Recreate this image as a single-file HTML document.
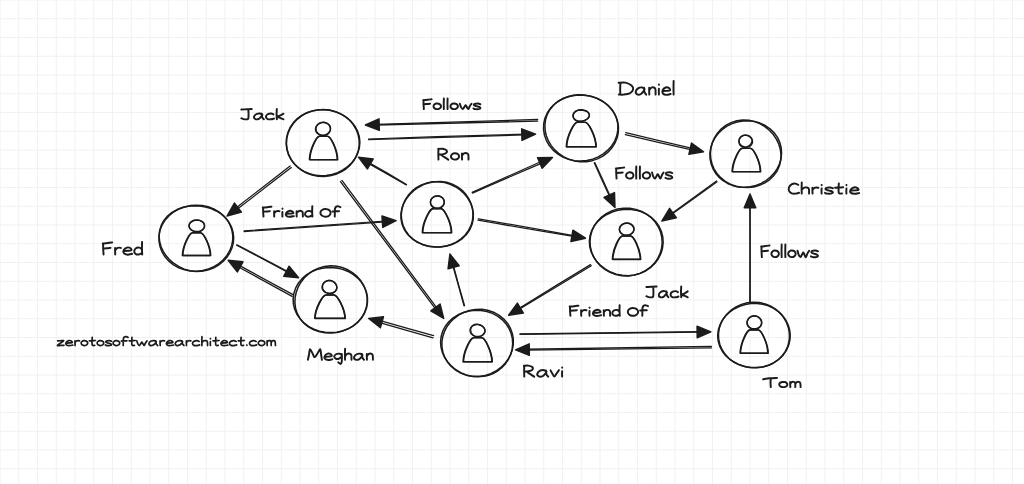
<!DOCTYPE html><html><head><meta charset="utf-8"><style>html,body{margin:0;padding:0;background:#fff;overflow:hidden}svg{display:block}</style></head><body>
<svg width="1024" height="484" viewBox="0 0 1024 484">
<rect width="1024" height="484" fill="#fff"/>
<path d="M0.00 0V484M18.75 0V484M37.50 0V484M56.25 0V484M75.00 0V484M93.75 0V484M112.50 0V484M131.25 0V484M150.00 0V484M168.75 0V484M187.50 0V484M206.25 0V484M225.00 0V484M243.75 0V484M262.50 0V484M281.25 0V484M300.00 0V484M318.75 0V484M337.50 0V484M356.25 0V484M375.00 0V484M393.75 0V484M412.50 0V484M431.25 0V484M450.00 0V484M468.75 0V484M487.50 0V484M506.25 0V484M525.00 0V484M543.75 0V484M562.50 0V484M581.25 0V484M600.00 0V484M618.75 0V484M637.50 0V484M656.25 0V484M675.00 0V484M693.75 0V484M712.50 0V484M731.25 0V484M750.00 0V484M768.75 0V484M787.50 0V484M806.25 0V484M825.00 0V484M843.75 0V484M862.50 0V484M881.25 0V484M900.00 0V484M918.75 0V484M937.50 0V484M956.25 0V484M975.00 0V484M993.75 0V484M1012.50 0V484M0 0.00H1024M0 18.75H1024M0 37.50H1024M0 56.25H1024M0 75.00H1024M0 93.75H1024M0 112.50H1024M0 131.25H1024M0 150.00H1024M0 168.75H1024M0 187.50H1024M0 206.25H1024M0 225.00H1024M0 243.75H1024M0 262.50H1024M0 281.25H1024M0 300.00H1024M0 318.75H1024M0 337.50H1024M0 356.25H1024M0 375.00H1024M0 393.75H1024M0 412.50H1024M0 431.25H1024M0 450.00H1024M0 468.75H1024" stroke="#f1f1f1" stroke-width="1" fill="none"/>
<path d="M321.22 175.77 L315.20 175.23 L309.34 173.76 L303.84 171.39 L298.86 168.17 L294.56 164.20 L291.07 159.61 L288.47 154.57 L286.83 149.20 L286.17 143.67 L286.49 138.12 L287.81 132.69 L290.09 127.54 L293.29 122.81 L297.32 118.64 L302.06 115.18 L307.37 112.52 L313.08 110.72 L319.02 109.80 L325.02 109.76 L330.95 110.57 L336.68 112.20 L342.07 114.62 L347.00 117.78 L351.32 121.64 L354.90 126.13 L357.59 131.15 L359.27 136.54 L359.87 142.13 L359.36 147.72 L357.78 153.11 L355.22 158.14 L351.80 162.69 L347.65 166.66 L342.90 169.98 L337.65 172.60 L332.03 174.48 L326.13 175.54 L320.11 175.74 L314.11 175.03 L308.30 173.40" fill="none" stroke="#1b1b1b" stroke-width="1.50" stroke-linecap="round" stroke-linejoin="round"/>
<path d="M291.21 159.60 L288.70 154.66 L287.11 149.43 L286.46 144.05 L286.76 138.66 L287.99 133.39 L290.13 128.38 L293.12 123.74 L296.88 119.60 L301.31 116.06 L306.32 113.21 L311.76 111.14 L317.51 109.90 L323.40 109.53 L329.28 110.04 L334.99 111.43 L340.38 113.64 L345.29 116.63 L349.62 120.29 L353.24 124.55 L356.06 129.27 L358.03 134.35 L359.09 139.66 L359.21 145.06 L358.37 150.42 L356.60 155.61 L353.94 160.48 L350.43 164.90 L346.16 168.75 L341.25 171.92 L335.84 174.30 L330.05 175.84 L324.07 176.48 L318.05 176.20 L312.17 175.02 L306.59 172.97 L301.46 170.11 L296.92 166.52 L293.10 162.32 L290.08 157.62 L287.94 152.54" fill="none" stroke="#1b1b1b" stroke-width="1.50" stroke-linecap="round" stroke-linejoin="round"/>
<path d="M329.24 132.08 L328.53 132.86 L327.69 133.56 L326.73 134.15 L325.68 134.63 L324.53 134.99 L323.33 135.19 L322.08 135.23 L320.84 135.08 L319.64 134.75 L318.53 134.24 L317.54 133.55 L316.72 132.72 L316.09 131.79 L315.68 130.77 L315.48 129.73 L315.50 128.68 L315.71 127.66 L316.11 126.70 L316.68 125.81 L317.39 125.00 L318.24 124.28 L319.20 123.67 L320.26 123.18 L321.41 122.82 L322.61 122.61 L323.85 122.57 L325.09 122.70 L326.29 123.02 L327.40 123.51 L328.39 124.17 L329.21 124.97 L329.85 125.88 L330.29 126.86 L330.52 127.88 L330.54 128.90 L330.36 129.90 L330.01 130.84 L329.50 131.73 L328.84 132.54 L328.06 133.28" fill="none" stroke="#1b1b1b" stroke-width="1.40" stroke-linecap="round" stroke-linejoin="round"/>
<path d="M329.07 132.82 L328.29 133.69 L327.32 134.43 L326.20 135.01 L324.95 135.40 L323.64 135.56 L322.32 135.49 L321.05 135.21 L319.88 134.73 L318.83 134.10 L317.94 133.35 L317.21 132.50 L316.65 131.60 L316.26 130.65 L316.03 129.69 L315.96 128.70 L316.05 127.72 L316.32 126.74 L316.76 125.78 L317.38 124.87 L318.19 124.04 L319.16 123.32 L320.29 122.75 L321.53 122.37 L322.84 122.21 L324.17 122.28 L325.44 122.58 L326.62 123.07 L327.66 123.74 L328.53 124.54 L329.22 125.43 L329.73 126.36 L330.08 127.33 L330.27 128.32 L330.31 129.32 L330.19 130.32 L329.90 131.32 L329.42 132.29 L328.75 133.21 L327.89 134.03 L326.85 134.71" fill="none" stroke="#1b1b1b" stroke-width="1.40" stroke-linecap="round" stroke-linejoin="round"/>
<path d="M309.60 159.70 C309.90 149.17 316.55 136.30 319.55 136.30 L327.55 136.30 C330.55 136.30 337.20 149.17 337.50 159.70 Z" transform="translate(-0.21 -0.09)" fill="none" stroke="#1b1b1b" stroke-width="1.45" stroke-linejoin="round"/>
<path d="M309.60 159.70 C309.90 149.17 316.55 136.30 319.55 136.30 L327.55 136.30 C330.55 136.30 337.20 149.17 337.50 159.70 Z" transform="translate(0.21 0.09)" fill="none" stroke="#1b1b1b" stroke-width="1.45" stroke-linejoin="round"/>
<path d="M572.04 95.51 L577.92 94.83 L583.82 94.99 L589.60 95.95 L595.15 97.65 L600.36 100.07 L605.14 103.17 L609.36 106.90 L612.92 111.22 L615.68 116.04 L617.54 121.25 L618.44 126.71 L618.31 132.25 L617.16 137.73 L615.02 142.97 L611.94 147.83 L608.01 152.14 L603.33 155.79 L598.05 158.66 L592.32 160.64 L586.31 161.69 L580.24 161.77 L574.27 160.90 L568.59 159.15 L563.33 156.62 L558.61 153.40 L554.50 149.61 L551.05 145.36 L548.31 140.71 L546.33 135.75 L545.16 130.55 L544.87 125.21 L545.54 119.84 L547.19 114.61 L549.84 109.69 L553.41 105.27 L557.80 101.51 L562.84 98.53 L568.35 96.40 L574.15 95.17 L580.05 94.79" fill="none" stroke="#1b1b1b" stroke-width="1.50" stroke-linecap="round" stroke-linejoin="round"/>
<path d="M557.09 102.09 L562.29 99.04 L567.93 96.85 L573.85 95.52 L579.89 95.03 L585.92 95.38 L591.83 96.53 L597.48 98.48 L602.75 101.23 L607.48 104.75 L611.50 108.97 L614.65 113.80 L616.81 119.08 L617.89 124.64 L617.86 130.27 L616.75 135.80 L614.64 141.04 L611.62 145.88 L607.80 150.19 L603.29 153.90 L598.19 156.92 L592.62 159.17 L586.71 160.59 L580.61 161.11 L574.48 160.70 L568.49 159.35 L562.83 157.09 L557.64 153.98 L553.09 150.11 L549.30 145.59 L546.39 140.54 L544.44 135.10 L543.53 129.42 L543.72 123.66 L545.01 118.03 L547.38 112.70 L550.75 107.87 L554.99 103.69 L559.93 100.28 L565.40 97.71 L571.22 96.00" fill="none" stroke="#1b1b1b" stroke-width="1.50" stroke-linecap="round" stroke-linejoin="round"/>
<path d="M579.93 109.79 L581.22 109.74 L582.50 109.83 L583.76 110.06 L584.96 110.41 L586.09 110.87 L587.12 111.47 L588.02 112.20 L588.73 113.05 L589.21 114.01 L589.42 115.03 L589.34 116.06 L588.97 117.04 L588.37 117.93 L587.57 118.69 L586.63 119.32 L585.60 119.85 L584.51 120.30 L583.35 120.67 L582.12 120.96 L580.83 121.15 L579.50 121.19 L578.17 121.04 L576.89 120.68 L575.74 120.11 L574.78 119.35 L574.04 118.46 L573.56 117.49 L573.31 116.48 L573.29 115.49 L573.46 114.52 L573.82 113.60 L574.36 112.73 L575.06 111.92 L575.93 111.21 L576.95 110.62 L578.09 110.17 L579.33 109.87 L580.61 109.75 L581.90 109.77 L583.17 109.94" fill="none" stroke="#1b1b1b" stroke-width="1.40" stroke-linecap="round" stroke-linejoin="round"/>
<path d="M576.87 110.70 L578.02 110.38 L579.21 110.20 L580.41 110.15 L581.60 110.20 L582.76 110.33 L583.90 110.54 L585.01 110.82 L586.08 111.22 L587.08 111.74 L587.95 112.40 L588.64 113.20 L589.09 114.11 L589.28 115.08 L589.20 116.05 L588.85 116.98 L588.30 117.83 L587.57 118.58 L586.72 119.23 L585.78 119.80 L584.75 120.30 L583.64 120.73 L582.46 121.09 L581.19 121.32 L579.87 121.41 L578.54 121.31 L577.25 121.01 L576.06 120.51 L575.02 119.83 L574.17 119.00 L573.54 118.07 L573.12 117.08 L572.93 116.07 L572.96 115.06 L573.21 114.07 L573.67 113.15 L574.32 112.31 L575.16 111.58 L576.15 111.00 L577.25 110.58 L578.42 110.30" fill="none" stroke="#1b1b1b" stroke-width="1.40" stroke-linecap="round" stroke-linejoin="round"/>
<path d="M566.50 146.80 C566.80 135.77 574.30 122.30 577.30 122.30 L585.30 122.30 C588.30 122.30 595.80 135.77 596.10 146.80 Z" transform="translate(-0.21 -0.09)" fill="none" stroke="#1b1b1b" stroke-width="1.45" stroke-linejoin="round"/>
<path d="M566.50 146.80 C566.80 135.77 574.30 122.30 577.30 122.30 L585.30 122.30 C588.30 122.30 595.80 135.77 596.10 146.80 Z" transform="translate(0.21 0.09)" fill="none" stroke="#1b1b1b" stroke-width="1.45" stroke-linejoin="round"/>
<path d="M719.70 177.88 L715.96 173.64 L713.07 168.87 L711.08 163.75 L710.04 158.42 L709.94 153.05 L710.76 147.76 L712.44 142.67 L714.93 137.90 L718.18 133.55 L722.10 129.70 L726.62 126.44 L731.64 123.85 L737.05 122.01 L742.74 120.96 L748.56 120.78 L754.37 121.47 L760.00 123.06 L765.28 125.52 L770.05 128.80 L774.14 132.80 L777.42 137.40 L779.78 142.44 L781.17 147.77 L781.57 153.21 L781.00 158.59 L779.52 163.77 L777.20 168.65 L774.12 173.12 L770.37 177.10 L766.03 180.53 L761.19 183.35 L755.92 185.47 L750.33 186.82 L744.54 187.34 L738.71 186.96 L733.00 185.66 L727.61 183.46 L722.70 180.41 L718.44 176.61 L714.95 172.18" fill="none" stroke="#1b1b1b" stroke-width="1.50" stroke-linecap="round" stroke-linejoin="round"/>
<path d="M712.22 164.62 L710.87 159.36 L710.41 153.97 L710.82 148.58 L712.10 143.28 L714.25 138.17 L717.25 133.38 L721.09 129.08 L725.72 125.42 L731.01 122.59 L736.80 120.74 L742.85 119.96 L748.93 120.27 L754.80 121.61 L760.28 123.86 L765.23 126.87 L769.59 130.49 L773.31 134.62 L776.37 139.15 L778.72 144.03 L780.30 149.21 L781.01 154.60 L780.78 160.09 L779.52 165.52 L777.23 170.70 L773.94 175.43 L769.78 179.53 L764.89 182.87 L759.46 185.35 L753.67 186.92 L747.69 187.58 L741.70 187.32 L735.86 186.16 L730.32 184.13 L725.23 181.29 L720.73 177.71 L716.96 173.50 L714.01 168.80 L711.92 163.73 L710.72 158.43 L710.41 153.04" fill="none" stroke="#1b1b1b" stroke-width="1.50" stroke-linecap="round" stroke-linejoin="round"/>
<path d="M741.39 136.55 L742.23 135.96 L743.19 135.50 L744.22 135.19 L745.30 135.05 L746.40 135.09 L747.48 135.29 L748.51 135.66 L749.46 136.18 L750.31 136.84 L751.01 137.63 L751.54 138.51 L751.89 139.47 L752.04 140.46 L751.98 141.44 L751.74 142.38 L751.34 143.26 L750.81 144.06 L750.18 144.77 L749.47 145.41 L748.68 145.98 L747.81 146.48 L746.87 146.89 L745.84 147.17 L744.76 147.30 L743.65 147.25 L742.57 146.98 L741.57 146.51 L740.70 145.85 L740.00 145.04 L739.49 144.14 L739.16 143.19 L739.01 142.22 L739.01 141.27 L739.14 140.34 L739.39 139.44 L739.77 138.58 L740.27 137.75 L740.90 137.00 L741.67 136.33 L742.56 135.78" fill="none" stroke="#1b1b1b" stroke-width="1.40" stroke-linecap="round" stroke-linejoin="round"/>
<path d="M739.76 138.07 L740.38 137.26 L741.16 136.57 L742.06 136.03 L743.05 135.64 L744.09 135.41 L745.15 135.34 L746.20 135.41 L747.23 135.62 L748.22 135.96 L749.15 136.40 L750.02 136.97 L750.81 137.65 L751.48 138.45 L752.01 139.35 L752.37 140.35 L752.53 141.40 L752.46 142.48 L752.16 143.53 L751.64 144.50 L750.92 145.35 L750.04 146.04 L749.04 146.56 L747.98 146.90 L746.89 147.06 L745.81 147.07 L744.76 146.92 L743.76 146.65 L742.83 146.27 L741.97 145.79 L741.19 145.22 L740.51 144.55 L739.93 143.81 L739.47 142.99 L739.15 142.10 L739.00 141.16 L739.01 140.20 L739.22 139.25 L739.61 138.33 L740.18 137.50 L740.91 136.77" fill="none" stroke="#1b1b1b" stroke-width="1.40" stroke-linecap="round" stroke-linejoin="round"/>
<path d="M732.30 171.70 C732.60 161.17 739.40 148.30 742.40 148.30 L750.40 148.30 C753.40 148.30 760.20 161.17 760.50 171.70 Z" transform="translate(-0.21 -0.09)" fill="none" stroke="#1b1b1b" stroke-width="1.45" stroke-linejoin="round"/>
<path d="M732.30 171.70 C732.60 161.17 739.40 148.30 742.40 148.30 L750.40 148.30 C753.40 148.30 760.20 161.17 760.50 171.70 Z" transform="translate(0.21 0.09)" fill="none" stroke="#1b1b1b" stroke-width="1.45" stroke-linejoin="round"/>
<path d="M229.58 223.92 L231.66 229.14 L232.71 234.58 L232.73 240.10 L231.72 245.51 L229.76 250.69 L226.90 255.49 L223.25 259.82 L218.89 263.58 L213.92 266.68 L208.47 269.04 L202.64 270.59 L196.59 271.27 L190.48 271.04 L184.48 269.88 L178.76 267.80 L173.50 264.87 L168.87 261.15 L165.00 256.77 L162.01 251.86 L159.99 246.56 L158.99 241.03 L159.04 235.44 L160.13 229.96 L162.21 224.74 L165.22 219.92 L169.06 215.64 L173.60 212.00 L178.73 209.08 L184.29 206.93 L190.16 205.61 L196.19 205.14 L202.23 205.54 L208.13 206.81 L213.74 208.94 L218.89 211.90 L223.43 215.61 L227.19 219.99 L230.06 224.89 L231.94 230.16 L232.80 235.63" fill="none" stroke="#1b1b1b" stroke-width="1.50" stroke-linecap="round" stroke-linejoin="round"/>
<path d="M233.64 236.54 L233.40 242.05 L232.16 247.43 L229.97 252.56 L226.91 257.29 L223.06 261.53 L218.51 265.14 L213.37 268.03 L207.77 270.08 L201.88 271.23 L195.89 271.43 L189.98 270.70 L184.32 269.10 L179.05 266.74 L174.27 263.71 L170.03 260.13 L166.38 256.08 L163.38 251.60 L161.09 246.74 L159.62 241.57 L159.09 236.18 L159.60 230.74 L161.20 225.43 L163.87 220.48 L167.52 216.08 L171.99 212.41 L177.08 209.54 L182.57 207.52 L188.28 206.30 L194.08 205.84 L199.87 206.09 L205.56 207.01 L211.07 208.62 L216.31 210.94 L221.13 213.99 L225.38 217.74 L228.88 222.14 L231.49 227.06 L233.10 232.35 L233.67 237.83 L233.20 243.32" fill="none" stroke="#1b1b1b" stroke-width="1.50" stroke-linecap="round" stroke-linejoin="round"/>
<path d="M192.78 221.12 L193.83 220.70 L194.95 220.39 L196.12 220.19 L197.32 220.12 L198.54 220.19 L199.73 220.41 L200.87 220.79 L201.92 221.33 L202.83 222.02 L203.56 222.83 L204.11 223.74 L204.44 224.71 L204.57 225.72 L204.48 226.72 L204.18 227.70 L203.68 228.63 L203.00 229.49 L202.14 230.23 L201.14 230.86 L200.01 231.33 L198.81 231.63 L197.55 231.77 L196.30 231.74 L195.07 231.55 L193.91 231.22 L192.82 230.76 L191.84 230.19 L190.98 229.52 L190.27 228.75 L189.72 227.91 L189.35 227.00 L189.20 226.06 L189.25 225.11 L189.53 224.19 L190.01 223.33 L190.66 222.56 L191.47 221.88 L192.40 221.31 L193.42 220.85 L194.51 220.50" fill="none" stroke="#1b1b1b" stroke-width="1.40" stroke-linecap="round" stroke-linejoin="round"/>
<path d="M191.92 221.18 L192.97 220.67 L194.11 220.31 L195.30 220.09 L196.52 220.03 L197.73 220.10 L198.92 220.31 L200.05 220.65 L201.11 221.11 L202.07 221.69 L202.90 222.39 L203.58 223.20 L204.08 224.09 L204.38 225.04 L204.46 226.02 L204.31 227.00 L203.94 227.94 L203.36 228.82 L202.61 229.59 L201.70 230.24 L200.68 230.77 L199.57 231.17 L198.40 231.42 L197.19 231.55 L195.98 231.53 L194.78 231.38 L193.62 231.09 L192.53 230.66 L191.54 230.10 L190.68 229.41 L189.97 228.62 L189.44 227.75 L189.11 226.81 L188.99 225.83 L189.08 224.85 L189.38 223.90 L189.88 223.01 L190.57 222.20 L191.43 221.49 L192.42 220.91 L193.52 220.48" fill="none" stroke="#1b1b1b" stroke-width="1.40" stroke-linecap="round" stroke-linejoin="round"/>
<path d="M182.60 255.50 C182.90 245.28 189.55 232.80 192.55 232.80 L200.55 232.80 C203.55 232.80 210.20 245.28 210.50 255.50 Z" transform="translate(-0.21 -0.09)" fill="none" stroke="#1b1b1b" stroke-width="1.45" stroke-linejoin="round"/>
<path d="M182.60 255.50 C182.90 245.28 189.55 232.80 192.55 232.80 L200.55 232.80 C203.55 232.80 210.20 245.28 210.50 255.50 Z" transform="translate(0.21 0.09)" fill="none" stroke="#1b1b1b" stroke-width="1.45" stroke-linejoin="round"/>
<path d="M417.73 242.28 L412.95 239.08 L408.86 235.18 L405.57 230.70 L403.18 225.77 L401.76 220.57 L401.28 215.25 L401.74 209.95 L403.08 204.80 L405.26 199.89 L408.24 195.32 L411.98 191.21 L416.42 187.69 L421.47 184.87 L426.98 182.89 L432.80 181.83 L438.73 181.72 L444.59 182.55 L450.19 184.25 L455.40 186.75 L460.12 189.94 L464.26 193.73 L467.75 198.04 L470.48 202.82 L472.38 207.96 L473.33 213.36 L473.25 218.87 L472.10 224.31 L469.88 229.47 L466.68 234.18 L462.63 238.27 L457.88 241.64 L452.61 244.22 L447.00 245.99 L441.17 246.95 L435.27 247.10 L429.42 246.44 L423.75 244.95 L418.41 242.65 L413.56 239.56 L409.36 235.74" fill="none" stroke="#1b1b1b" stroke-width="1.50" stroke-linecap="round" stroke-linejoin="round"/>
<path d="M407.16 233.76 L404.09 229.10 L402.01 224.00 L400.97 218.66 L400.99 213.28 L402.00 208.03 L403.90 203.05 L406.59 198.43 L409.96 194.22 L413.94 190.47 L418.47 187.25 L423.51 184.63 L428.98 182.72 L434.77 181.64 L440.72 181.48 L446.63 182.30 L452.31 184.11 L457.54 186.83 L462.16 190.36 L466.04 194.54 L469.10 199.23 L471.30 204.28 L472.61 209.56 L473.00 214.96 L472.45 220.35 L470.94 225.59 L468.50 230.53 L465.18 235.02 L461.07 238.91 L456.30 242.10 L451.04 244.50 L445.43 246.10 L439.64 246.88 L433.79 246.85 L428.01 246.04 L422.41 244.43 L417.14 242.04 L412.34 238.88 L408.20 234.99 L404.87 230.47 L402.49 225.48" fill="none" stroke="#1b1b1b" stroke-width="1.50" stroke-linecap="round" stroke-linejoin="round"/>
<path d="M431.35 199.21 L431.93 198.38 L432.64 197.63 L433.47 196.99 L434.41 196.46 L435.44 196.08 L436.53 195.86 L437.64 195.81 L438.76 195.93 L439.84 196.21 L440.85 196.65 L441.77 197.23 L442.58 197.94 L443.25 198.76 L443.75 199.67 L444.07 200.64 L444.20 201.65 L444.14 202.65 L443.89 203.63 L443.47 204.55 L442.90 205.39 L442.20 206.14 L441.39 206.80 L440.48 207.36 L439.49 207.80 L438.43 208.11 L437.31 208.28 L436.17 208.28 L435.03 208.09 L433.95 207.72 L432.96 207.17 L432.10 206.45 L431.41 205.61 L430.90 204.67 L430.59 203.68 L430.46 202.67 L430.50 201.67 L430.71 200.70 L431.06 199.77 L431.55 198.90 L432.17 198.09" fill="none" stroke="#1b1b1b" stroke-width="1.40" stroke-linecap="round" stroke-linejoin="round"/>
<path d="M430.58 200.90 L430.90 199.91 L431.40 199.00 L432.07 198.18 L432.88 197.48 L433.81 196.92 L434.81 196.49 L435.88 196.21 L436.98 196.07 L438.09 196.09 L439.19 196.26 L440.25 196.59 L441.24 197.07 L442.13 197.70 L442.90 198.47 L443.51 199.34 L443.95 200.30 L444.22 201.31 L444.29 202.37 L444.17 203.42 L443.86 204.46 L443.36 205.44 L442.67 206.33 L441.81 207.10 L440.81 207.71 L439.70 208.15 L438.52 208.39 L437.32 208.43 L436.14 208.29 L435.01 207.96 L433.97 207.48 L433.03 206.87 L432.21 206.13 L431.53 205.30 L431.00 204.39 L430.64 203.41 L430.47 202.39 L430.50 201.37 L430.73 200.36 L431.15 199.41 L431.75 198.55" fill="none" stroke="#1b1b1b" stroke-width="1.40" stroke-linecap="round" stroke-linejoin="round"/>
<path d="M422.50 232.70 C422.80 221.86 430.00 208.60 433.00 208.60 L441.00 208.60 C444.00 208.60 451.20 221.86 451.50 232.70 Z" transform="translate(-0.21 -0.09)" fill="none" stroke="#1b1b1b" stroke-width="1.45" stroke-linejoin="round"/>
<path d="M422.50 232.70 C422.80 221.86 430.00 208.60 433.00 208.60 L441.00 208.60 C444.00 208.60 451.20 221.86 451.50 232.70 Z" transform="translate(0.21 0.09)" fill="none" stroke="#1b1b1b" stroke-width="1.45" stroke-linejoin="round"/>
<path d="M593.93 257.34 L591.70 252.27 L590.37 246.99 L589.97 241.59 L590.49 236.21 L591.93 230.94 L594.28 225.92 L597.50 221.27 L601.53 217.12 L606.30 213.62 L611.69 210.89 L617.53 209.04 L623.66 208.15 L629.86 208.26 L635.94 209.37 L641.69 211.43 L646.94 214.35 L651.54 218.01 L655.39 222.27 L658.41 227.01 L660.56 232.08 L661.81 237.36 L662.16 242.74 L661.60 248.12 L660.13 253.39 L657.75 258.41 L654.49 263.06 L650.40 267.20 L645.57 270.67 L640.12 273.36 L634.22 275.13 L628.05 275.93 L621.82 275.71 L615.75 274.50 L610.02 272.34 L604.81 269.35 L600.26 265.63 L596.46 261.31 L593.50 256.53 L591.42 251.43 L590.24 246.12" fill="none" stroke="#1b1b1b" stroke-width="1.50" stroke-linecap="round" stroke-linejoin="round"/>
<path d="M594.25 225.81 L597.76 221.40 L602.01 217.59 L606.86 214.45 L612.18 212.03 L617.83 210.36 L623.71 209.46 L629.70 209.37 L635.66 210.14 L641.43 211.79 L646.84 214.32 L651.69 217.68 L655.83 221.78 L659.11 226.48 L661.44 231.62 L662.79 237.04 L663.15 242.57 L662.52 248.08 L660.95 253.44 L658.45 258.52 L655.08 263.19 L650.88 267.30 L645.97 270.71 L640.47 273.29 L634.55 274.95 L628.42 275.63 L622.27 275.34 L616.30 274.12 L610.64 272.04 L605.45 269.21 L600.81 265.71 L596.83 261.61 L593.60 257.01 L591.22 251.99 L589.79 246.68 L589.37 241.21 L590.02 235.75 L591.71 230.49 L594.39 225.59 L597.94 221.21 L602.22 217.43" fill="none" stroke="#1b1b1b" stroke-width="1.50" stroke-linecap="round" stroke-linejoin="round"/>
<path d="M633.33 231.56 L632.73 232.44 L631.96 233.24 L631.04 233.93 L629.99 234.49 L628.85 234.91 L627.62 235.18 L626.36 235.26 L625.09 235.15 L623.86 234.86 L622.72 234.38 L621.70 233.74 L620.85 232.95 L620.19 232.06 L619.73 231.09 L619.49 230.09 L619.46 229.09 L619.63 228.12 L619.99 227.20 L620.50 226.36 L621.15 225.60 L621.93 224.93 L622.81 224.35 L623.79 223.88 L624.84 223.53 L625.96 223.30 L627.11 223.21 L628.27 223.28 L629.42 223.50 L630.50 223.89 L631.50 224.44 L632.36 225.12 L633.07 225.93 L633.59 226.83 L633.92 227.80 L634.05 228.79 L633.98 229.80 L633.71 230.78 L633.25 231.71 L632.61 232.58 L631.81 233.36" fill="none" stroke="#1b1b1b" stroke-width="1.40" stroke-linecap="round" stroke-linejoin="round"/>
<path d="M629.19 234.87 L627.97 235.14 L626.70 235.24 L625.43 235.17 L624.20 234.92 L623.03 234.49 L621.98 233.90 L621.07 233.15 L620.35 232.29 L619.83 231.34 L619.52 230.35 L619.42 229.34 L619.52 228.35 L619.79 227.40 L620.22 226.50 L620.81 225.66 L621.54 224.90 L622.41 224.24 L623.40 223.70 L624.49 223.30 L625.65 223.08 L626.84 223.05 L628.02 223.20 L629.13 223.51 L630.16 223.97 L631.08 224.55 L631.89 225.22 L632.57 225.97 L633.13 226.78 L633.54 227.66 L633.80 228.59 L633.87 229.57 L633.74 230.57 L633.39 231.54 L632.83 232.47 L632.07 233.30 L631.14 234.00 L630.07 234.56 L628.90 234.96 L627.66 235.19 L626.39 235.24" fill="none" stroke="#1b1b1b" stroke-width="1.40" stroke-linecap="round" stroke-linejoin="round"/>
<path d="M612.60 259.40 C612.90 248.87 619.55 236.00 622.55 236.00 L630.55 236.00 C633.55 236.00 640.20 248.87 640.50 259.40 Z" transform="translate(-0.21 -0.09)" fill="none" stroke="#1b1b1b" stroke-width="1.45" stroke-linejoin="round"/>
<path d="M612.60 259.40 C612.90 248.87 619.55 236.00 622.55 236.00 L630.55 236.00 C633.55 236.00 640.20 248.87 640.50 259.40 Z" transform="translate(0.21 0.09)" fill="none" stroke="#1b1b1b" stroke-width="1.45" stroke-linejoin="round"/>
<path d="M322.96 266.81 L329.10 265.91 L335.33 266.07 L341.44 267.29 L347.19 269.50 L352.43 272.58 L357.01 276.39 L360.85 280.81 L363.85 285.71 L365.96 290.98 L367.11 296.48 L367.24 302.07 L366.33 307.60 L364.39 312.90 L361.48 317.79 L357.70 322.14 L353.20 325.83 L348.13 328.81 L342.62 331.02 L336.80 332.44 L330.81 333.04 L324.77 332.78 L318.84 331.62 L313.20 329.55 L308.04 326.59 L303.56 322.82 L299.93 318.37 L297.25 313.43 L295.58 308.18 L294.90 302.81 L295.14 297.46 L296.23 292.24 L298.12 287.22 L300.76 282.47 L304.15 278.05 L308.28 274.09 L313.11 270.74 L318.55 268.15 L324.47 266.49 L330.65 265.85 L336.87 266.28" fill="none" stroke="#1b1b1b" stroke-width="1.50" stroke-linecap="round" stroke-linejoin="round"/>
<path d="M331.18 267.49 L337.00 268.03 L342.67 269.36 L348.07 271.45 L353.06 274.30 L357.53 277.85 L361.32 282.04 L364.30 286.78 L366.37 291.94 L367.44 297.37 L367.45 302.89 L366.41 308.34 L364.36 313.52 L361.36 318.29 L357.55 322.49 L353.04 326.04 L348.00 328.86 L342.55 330.91 L336.85 332.16 L331.02 332.62 L325.18 332.28 L319.47 331.15 L313.99 329.25 L308.88 326.60 L304.26 323.22 L300.29 319.19 L297.08 314.58 L294.77 309.52 L293.43 304.14 L293.15 298.62 L293.92 293.14 L295.72 287.87 L298.48 282.99 L302.10 278.63 L306.44 274.90 L311.37 271.89 L316.72 269.64 L322.37 268.18 L328.18 267.52 L334.03 267.65 L339.79 268.58" fill="none" stroke="#1b1b1b" stroke-width="1.50" stroke-linecap="round" stroke-linejoin="round"/>
<path d="M334.80 282.72 L335.50 283.56 L336.05 284.46 L336.43 285.40 L336.67 286.37 L336.75 287.35 L336.67 288.35 L336.41 289.35 L335.98 290.32 L335.35 291.23 L334.54 292.06 L333.55 292.74 L332.42 293.25 L331.19 293.56 L329.91 293.66 L328.65 293.54 L327.44 293.22 L326.32 292.73 L325.33 292.10 L324.47 291.36 L323.76 290.53 L323.20 289.64 L322.79 288.69 L322.55 287.70 L322.48 286.68 L322.59 285.65 L322.89 284.64 L323.39 283.66 L324.08 282.76 L324.96 281.97 L325.99 281.32 L327.16 280.84 L328.40 280.57 L329.68 280.51 L330.95 280.66 L332.16 281.01 L333.26 281.53 L334.22 282.20 L335.03 282.98 L335.69 283.84 L336.18 284.75" fill="none" stroke="#1b1b1b" stroke-width="1.40" stroke-linecap="round" stroke-linejoin="round"/>
<path d="M333.21 281.65 L334.13 282.33 L334.92 283.09 L335.58 283.91 L336.11 284.77 L336.52 285.68 L336.78 286.65 L336.87 287.65 L336.74 288.66 L336.39 289.65 L335.82 290.56 L335.04 291.35 L334.11 291.99 L333.06 292.48 L331.95 292.82 L330.80 293.02 L329.63 293.10 L328.45 293.06 L327.28 292.89 L326.13 292.57 L325.05 292.08 L324.07 291.42 L323.26 290.61 L322.64 289.66 L322.25 288.63 L322.08 287.55 L322.13 286.48 L322.38 285.42 L322.80 284.41 L323.39 283.46 L324.14 282.59 L325.05 281.81 L326.10 281.18 L327.28 280.72 L328.54 280.48 L329.83 280.48 L331.08 280.70 L332.24 281.12 L333.29 281.69 L334.20 282.38 L334.97 283.15" fill="none" stroke="#1b1b1b" stroke-width="1.40" stroke-linecap="round" stroke-linejoin="round"/>
<path d="M314.90 318.40 C315.20 307.87 323.00 295.00 326.00 295.00 L334.00 295.00 C337.00 295.00 344.80 307.87 345.10 318.40 Z" transform="translate(-0.21 -0.09)" fill="none" stroke="#1b1b1b" stroke-width="1.45" stroke-linejoin="round"/>
<path d="M314.90 318.40 C315.20 307.87 323.00 295.00 326.00 295.00 L334.00 295.00 C337.00 295.00 344.80 307.87 345.10 318.40 Z" transform="translate(0.21 0.09)" fill="none" stroke="#1b1b1b" stroke-width="1.45" stroke-linejoin="round"/>
<path d="M478.17 376.45 L472.19 376.29 L466.31 375.17 L460.75 373.12 L455.67 370.20 L451.25 366.53 L447.60 362.24 L444.81 357.48 L442.93 352.41 L441.97 347.18 L441.90 341.91 L442.72 336.71 L444.37 331.69 L446.82 326.92 L450.04 322.51 L453.98 318.56 L458.59 315.15 L463.77 312.42 L469.43 310.48 L475.43 309.43 L481.57 309.34 L487.67 310.26 L493.51 312.19 L498.87 315.07 L503.56 318.79 L507.43 323.21 L510.38 328.15 L512.33 333.43 L513.29 338.87 L513.27 344.32 L512.33 349.65 L510.53 354.74 L507.93 359.50 L504.58 363.86 L500.56 367.73 L495.92 371.01 L490.75 373.61 L485.17 375.42 L479.30 376.37 L473.31 376.39 L467.40 375.46" fill="none" stroke="#1b1b1b" stroke-width="1.50" stroke-linecap="round" stroke-linejoin="round"/>
<path d="M495.13 372.50 L489.72 374.90 L483.92 376.37 L477.93 376.85 L471.95 376.36 L466.19 374.95 L460.78 372.71 L455.85 369.75 L451.48 366.18 L447.73 362.08 L444.68 357.52 L442.42 352.58 L441.02 347.34 L440.57 341.92 L441.13 336.48 L442.73 331.19 L445.33 326.23 L448.83 321.76 L453.12 317.92 L458.05 314.80 L463.45 312.46 L469.18 310.95 L475.08 310.27 L481.02 310.46 L486.85 311.50 L492.40 313.40 L497.53 316.11 L502.07 319.56 L505.90 323.65 L508.92 328.25 L511.07 333.21 L512.32 338.39 L512.68 343.67 L512.18 348.94 L510.82 354.09 L508.61 359.03 L505.57 363.64 L501.73 367.78 L497.16 371.30 L491.96 374.04 L486.29 375.89" fill="none" stroke="#1b1b1b" stroke-width="1.50" stroke-linecap="round" stroke-linejoin="round"/>
<path d="M484.64 332.57 L484.17 333.49 L483.53 334.33 L482.71 335.06 L481.76 335.65 L480.71 336.10 L479.59 336.40 L478.43 336.54 L477.27 336.54 L476.11 336.40 L475.00 336.12 L473.94 335.71 L472.96 335.17 L472.08 334.52 L471.33 333.74 L470.73 332.86 L470.31 331.90 L470.09 330.88 L470.09 329.83 L470.31 328.79 L470.76 327.80 L471.41 326.90 L472.25 326.13 L473.22 325.50 L474.31 325.04 L475.46 324.75 L476.64 324.62 L477.81 324.65 L478.96 324.81 L480.05 325.11 L481.08 325.53 L482.03 326.06 L482.87 326.69 L483.60 327.41 L484.19 328.23 L484.63 329.12 L484.89 330.07 L484.95 331.05 L484.80 332.04 L484.45 332.99 L483.91 333.88" fill="none" stroke="#1b1b1b" stroke-width="1.40" stroke-linecap="round" stroke-linejoin="round"/>
<path d="M483.15 334.56 L482.30 335.26 L481.33 335.84 L480.27 336.30 L479.13 336.61 L477.94 336.77 L476.73 336.73 L475.55 336.50 L474.45 336.08 L473.47 335.50 L472.63 334.79 L471.96 333.99 L471.43 333.13 L471.04 332.24 L470.78 331.32 L470.65 330.38 L470.66 329.40 L470.84 328.40 L471.22 327.40 L471.82 326.46 L472.63 325.63 L473.64 324.96 L474.79 324.50 L476.02 324.25 L477.28 324.23 L478.51 324.39 L479.67 324.72 L480.75 325.16 L481.73 325.71 L482.62 326.34 L483.40 327.06 L484.05 327.87 L484.54 328.76 L484.85 329.71 L484.96 330.69 L484.85 331.68 L484.53 332.64 L484.03 333.54 L483.36 334.35 L482.55 335.07 L481.61 335.69" fill="none" stroke="#1b1b1b" stroke-width="1.40" stroke-linecap="round" stroke-linejoin="round"/>
<path d="M463.30 361.80 C463.60 350.95 470.70 337.70 473.70 337.70 L481.70 337.70 C484.70 337.70 491.80 350.95 492.10 361.80 Z" transform="translate(-0.21 -0.09)" fill="none" stroke="#1b1b1b" stroke-width="1.45" stroke-linejoin="round"/>
<path d="M463.30 361.80 C463.60 350.95 470.70 337.70 473.70 337.70 L481.70 337.70 C484.70 337.70 491.80 350.95 492.10 361.80 Z" transform="translate(0.21 0.09)" fill="none" stroke="#1b1b1b" stroke-width="1.45" stroke-linejoin="round"/>
<path d="M789.29 328.44 L790.15 333.93 L789.97 339.48 L788.75 344.93 L786.51 350.11 L783.31 354.85 L779.25 358.99 L774.47 362.39 L769.15 364.99 L763.45 366.71 L757.55 367.57 L751.59 367.56 L745.73 366.73 L740.09 365.09 L734.79 362.69 L729.96 359.54 L725.75 355.72 L722.30 351.28 L719.75 346.35 L718.19 341.07 L717.70 335.63 L718.28 330.22 L719.88 325.00 L722.42 320.14 L725.80 315.76 L729.88 311.94 L734.55 308.74 L739.70 306.24 L745.23 304.48 L751.01 303.52 L756.90 303.40 L762.76 304.17 L768.43 305.82 L773.72 308.33 L778.49 311.63 L782.59 315.64 L785.90 320.24 L788.31 325.29 L789.77 330.67 L790.20 336.20 L789.60 341.73" fill="none" stroke="#1b1b1b" stroke-width="1.50" stroke-linecap="round" stroke-linejoin="round"/>
<path d="M789.02 330.39 L789.53 335.81 L789.07 341.26 L787.63 346.59 L785.20 351.63 L781.82 356.23 L777.61 360.21 L772.68 363.45 L767.22 365.83 L761.41 367.31 L755.43 367.87 L749.45 367.52 L743.64 366.31 L738.13 364.28 L733.07 361.47 L728.59 357.97 L724.80 353.85 L721.83 349.22 L719.76 344.21 L718.63 338.96 L718.47 333.62 L719.27 328.33 L720.99 323.21 L723.59 318.39 L727.01 313.97 L731.18 310.09 L736.02 306.85 L741.43 304.38 L747.25 302.79 L753.31 302.17 L759.40 302.56 L765.31 303.94 L770.84 306.26 L775.84 309.40 L780.16 313.23 L783.74 317.63 L786.49 322.46 L788.39 327.62 L789.38 332.98 L789.43 338.43 L788.50 343.84" fill="none" stroke="#1b1b1b" stroke-width="1.50" stroke-linecap="round" stroke-linejoin="round"/>
<path d="M750.12 327.81 L749.12 327.18 L748.27 326.38 L747.61 325.45 L747.16 324.42 L746.95 323.35 L746.95 322.28 L747.15 321.24 L747.52 320.26 L748.04 319.34 L748.70 318.50 L749.48 317.75 L750.38 317.10 L751.38 316.57 L752.48 316.19 L753.65 315.99 L754.84 315.96 L756.03 316.12 L757.17 316.46 L758.24 316.97 L759.22 317.62 L760.07 318.40 L760.78 319.31 L761.33 320.32 L761.67 321.41 L761.79 322.55 L761.67 323.70 L761.29 324.81 L760.69 325.82 L759.88 326.70 L758.92 327.43 L757.84 327.98 L756.70 328.38 L755.52 328.62 L754.31 328.71 L753.11 328.67 L751.92 328.47 L750.77 328.11 L749.70 327.58 L748.76 326.87 L747.98 326.02" fill="none" stroke="#1b1b1b" stroke-width="1.40" stroke-linecap="round" stroke-linejoin="round"/>
<path d="M757.33 328.70 L756.13 329.06 L754.88 329.22 L753.63 329.18 L752.41 328.95 L751.26 328.54 L750.22 327.97 L749.31 327.25 L748.56 326.43 L747.98 325.53 L747.56 324.57 L747.32 323.58 L747.24 322.60 L747.32 321.62 L747.55 320.66 L747.91 319.74 L748.43 318.87 L749.08 318.06 L749.87 317.33 L750.80 316.72 L751.84 316.26 L752.96 315.97 L754.12 315.87 L755.29 315.95 L756.42 316.22 L757.49 316.66 L758.45 317.24 L759.30 317.94 L760.03 318.74 L760.63 319.63 L761.09 320.58 L761.39 321.60 L761.52 322.67 L761.45 323.75 L761.19 324.83 L760.71 325.87 L760.03 326.82 L759.16 327.65 L758.14 328.33 L757.00 328.83 L755.78 329.13" fill="none" stroke="#1b1b1b" stroke-width="1.40" stroke-linecap="round" stroke-linejoin="round"/>
<path d="M740.30 353.20 C740.60 342.72 747.15 329.90 750.15 329.90 L758.15 329.90 C761.15 329.90 767.70 342.72 768.00 353.20 Z" transform="translate(-0.21 -0.09)" fill="none" stroke="#1b1b1b" stroke-width="1.45" stroke-linejoin="round"/>
<path d="M740.30 353.20 C740.60 342.72 747.15 329.90 750.15 329.90 L758.15 329.90 C761.15 329.90 767.70 342.72 768.00 353.20 Z" transform="translate(0.21 0.09)" fill="none" stroke="#1b1b1b" stroke-width="1.45" stroke-linejoin="round"/>
<path d="M537.72 121.10 Q456.96 122.95 376.20 125.01" fill="none" stroke="#1b1b1b" stroke-width="1.30" stroke-linecap="round"/>
<path d="M537.68 119.50 Q456.92 121.61 376.19 124.41" fill="none" stroke="#1b1b1b" stroke-width="1.30" stroke-linecap="round"/>
<path d="M365.40 125.00 L379.04 118.83 L379.35 130.42 Z" fill="#1b1b1b" stroke="#1b1b1b" stroke-width="1.4" stroke-linejoin="round"/>
<path d="M368.49 139.00 Q446.63 136.25 524.79 134.13" fill="none" stroke="#1b1b1b" stroke-width="1.25" stroke-linecap="round"/>
<path d="M368.51 139.60 Q446.66 137.02 524.82 134.93" fill="none" stroke="#1b1b1b" stroke-width="1.25" stroke-linecap="round"/>
<path d="M535.60 134.20 L521.98 140.42 L521.63 128.82 Z" fill="#1b1b1b" stroke="#1b1b1b" stroke-width="1.4" stroke-linejoin="round"/>
<path d="M406.25 184.96 Q387.00 173.74 367.56 162.83" fill="none" stroke="#1b1b1b" stroke-width="1.25" stroke-linecap="round"/>
<path d="M406.55 184.44 Q387.41 173.02 367.96 162.14" fill="none" stroke="#1b1b1b" stroke-width="1.25" stroke-linecap="round"/>
<path d="M358.40 157.10 L373.25 158.95 L367.47 169.01 Z" fill="#1b1b1b" stroke="#1b1b1b" stroke-width="1.4" stroke-linejoin="round"/>
<path d="M291.31 167.59 Q263.63 188.75 236.10 210.11" fill="none" stroke="#1b1b1b" stroke-width="1.30" stroke-linecap="round"/>
<path d="M290.09 166.01 Q262.63 187.46 235.00 208.69" fill="none" stroke="#1b1b1b" stroke-width="1.30" stroke-linecap="round"/>
<path d="M227.00 216.00 L234.38 202.97 L241.47 212.15 Z" fill="#1b1b1b" stroke="#1b1b1b" stroke-width="1.4" stroke-linejoin="round"/>
<path d="M341.92 180.46 Q389.85 244.95 437.89 309.36" fill="none" stroke="#1b1b1b" stroke-width="1.30" stroke-linecap="round"/>
<path d="M340.48 181.54 Q388.40 246.04 436.60 310.32" fill="none" stroke="#1b1b1b" stroke-width="1.30" stroke-linecap="round"/>
<path d="M443.70 318.50 L430.80 310.90 L440.10 303.97 Z" fill="#1b1b1b" stroke="#1b1b1b" stroke-width="1.4" stroke-linejoin="round"/>
<path d="M244.08 230.85 Q314.67 225.65 385.29 221.00" fill="none" stroke="#1b1b1b" stroke-width="1.25" stroke-linecap="round"/>
<path d="M244.12 231.55 Q314.73 226.60 385.36 221.89" fill="none" stroke="#1b1b1b" stroke-width="1.25" stroke-linecap="round"/>
<path d="M396.10 220.70 L382.73 227.44 L381.93 215.86 Z" fill="#1b1b1b" stroke="#1b1b1b" stroke-width="1.4" stroke-linejoin="round"/>
<path d="M236.92 244.88 Q263.15 258.44 289.23 272.31" fill="none" stroke="#1b1b1b" stroke-width="1.25" stroke-linecap="round"/>
<path d="M236.68 245.32 Q262.89 258.94 288.86 273.01" fill="none" stroke="#1b1b1b" stroke-width="1.25" stroke-linecap="round"/>
<path d="M298.60 277.70 L283.69 276.39 L289.10 266.13 Z" fill="#1b1b1b" stroke="#1b1b1b" stroke-width="1.4" stroke-linejoin="round"/>
<path d="M292.12 296.38 Q264.63 281.33 237.15 266.26" fill="none" stroke="#1b1b1b" stroke-width="1.30" stroke-linecap="round"/>
<path d="M293.08 294.62 Q265.43 279.86 238.01 264.68" fill="none" stroke="#1b1b1b" stroke-width="1.30" stroke-linecap="round"/>
<path d="M228.10 260.30 L242.99 261.82 L237.44 272.00 Z" fill="#1b1b1b" stroke="#1b1b1b" stroke-width="1.4" stroke-linejoin="round"/>
<path d="M433.00 337.76 Q405.86 330.25 378.82 322.39" fill="none" stroke="#1b1b1b" stroke-width="1.30" stroke-linecap="round"/>
<path d="M433.60 335.64 Q406.41 328.29 379.37 320.47" fill="none" stroke="#1b1b1b" stroke-width="1.30" stroke-linecap="round"/>
<path d="M368.70 318.50 L383.56 316.66 L380.41 327.82 Z" fill="#1b1b1b" stroke="#1b1b1b" stroke-width="1.4" stroke-linejoin="round"/>
<path d="M464.01 305.78 Q458.38 285.10 452.51 264.48" fill="none" stroke="#1b1b1b" stroke-width="1.25" stroke-linecap="round"/>
<path d="M464.59 305.62 Q458.51 285.06 453.09 264.32" fill="none" stroke="#1b1b1b" stroke-width="1.25" stroke-linecap="round"/>
<path d="M449.90 254.00 L459.19 265.74 L448.02 268.85 Z" fill="#1b1b1b" stroke="#1b1b1b" stroke-width="1.4" stroke-linejoin="round"/>
<path d="M472.14 192.33 Q507.26 176.81 542.25 161.02" fill="none" stroke="#1b1b1b" stroke-width="1.25" stroke-linecap="round"/>
<path d="M472.46 193.07 Q507.63 177.67 542.97 162.66" fill="none" stroke="#1b1b1b" stroke-width="1.25" stroke-linecap="round"/>
<path d="M552.50 157.50 L542.19 168.36 L537.53 157.74 Z" fill="#1b1b1b" stroke="#1b1b1b" stroke-width="1.4" stroke-linejoin="round"/>
<path d="M478.32 218.81 Q526.68 227.09 574.92 236.00" fill="none" stroke="#1b1b1b" stroke-width="1.30" stroke-linecap="round"/>
<path d="M478.08 220.19 Q526.39 228.74 574.80 236.69" fill="none" stroke="#1b1b1b" stroke-width="1.30" stroke-linecap="round"/>
<path d="M585.50 238.20 L570.91 241.54 L572.90 230.12 Z" fill="#1b1b1b" stroke="#1b1b1b" stroke-width="1.4" stroke-linejoin="round"/>
<path d="M594.77 162.58 Q602.95 179.98 610.78 197.55" fill="none" stroke="#1b1b1b" stroke-width="1.25" stroke-linecap="round"/>
<path d="M594.23 162.82 Q601.95 180.44 610.23 197.80" fill="none" stroke="#1b1b1b" stroke-width="1.25" stroke-linecap="round"/>
<path d="M615.00 207.50 L603.98 197.36 L614.53 192.54 Z" fill="#1b1b1b" stroke="#1b1b1b" stroke-width="1.4" stroke-linejoin="round"/>
<path d="M625.73 132.63 Q659.44 140.85 693.26 148.57" fill="none" stroke="#1b1b1b" stroke-width="1.30" stroke-linecap="round"/>
<path d="M625.27 134.57 Q659.02 142.62 692.90 150.13" fill="none" stroke="#1b1b1b" stroke-width="1.30" stroke-linecap="round"/>
<path d="M703.60 151.80 L688.84 154.32 L691.48 143.02 Z" fill="#1b1b1b" stroke="#1b1b1b" stroke-width="1.4" stroke-linejoin="round"/>
<path d="M717.09 181.81 Q694.06 198.62 670.73 215.02" fill="none" stroke="#1b1b1b" stroke-width="1.25" stroke-linecap="round"/>
<path d="M716.51 180.99 Q693.47 197.80 670.38 214.54" fill="none" stroke="#1b1b1b" stroke-width="1.25" stroke-linecap="round"/>
<path d="M661.80 221.10 L669.59 208.32 L676.38 217.73 Z" fill="#1b1b1b" stroke="#1b1b1b" stroke-width="1.4" stroke-linejoin="round"/>
<path d="M591.26 265.80 Q554.77 288.06 517.99 309.85" fill="none" stroke="#1b1b1b" stroke-width="1.30" stroke-linecap="round"/>
<path d="M590.54 264.60 Q553.95 286.71 517.67 309.34" fill="none" stroke="#1b1b1b" stroke-width="1.30" stroke-linecap="round"/>
<path d="M508.60 315.20 L517.38 303.08 L523.41 312.99 Z" fill="#1b1b1b" stroke="#1b1b1b" stroke-width="1.4" stroke-linejoin="round"/>
<path d="M520.00 333.80 Q610.05 332.95 700.10 331.63" fill="none" stroke="#1b1b1b" stroke-width="1.25" stroke-linecap="round"/>
<path d="M520.00 334.40 Q610.06 333.40 700.10 332.23" fill="none" stroke="#1b1b1b" stroke-width="1.25" stroke-linecap="round"/>
<path d="M710.90 331.80 L697.17 337.77 L697.03 326.17 Z" fill="#1b1b1b" stroke="#1b1b1b" stroke-width="1.4" stroke-linejoin="round"/>
<path d="M711.41 347.90 Q618.86 349.01 526.30 350.05" fill="none" stroke="#1b1b1b" stroke-width="1.30" stroke-linecap="round"/>
<path d="M711.39 346.30 Q618.84 347.89 526.29 349.25" fill="none" stroke="#1b1b1b" stroke-width="1.30" stroke-linecap="round"/>
<path d="M515.50 349.80 L529.22 343.81 L529.38 355.41 Z" fill="#1b1b1b" stroke="#1b1b1b" stroke-width="1.4" stroke-linejoin="round"/>
<path d="M749.75 302.10 Q750.00 253.45 749.80 204.80" fill="none" stroke="#1b1b1b" stroke-width="1.25" stroke-linecap="round"/>
<path d="M750.25 302.10 Q750.21 253.45 750.20 204.80" fill="none" stroke="#1b1b1b" stroke-width="1.25" stroke-linecap="round"/>
<path d="M750.00 194.00 L755.80 207.80 L744.20 207.80 Z" fill="#1b1b1b" stroke="#1b1b1b" stroke-width="1.4" stroke-linejoin="round"/>
<path d="M241.38 109.59 C242.25 109.54 244.85 109.37 246.59 109.28 C248.33 109.20 250.93 109.11 251.80 109.08M248.33 109.28 C248.37 110.10 248.56 112.66 248.56 114.20 C248.56 115.74 248.56 117.65 248.33 118.50 C248.10 119.36 247.94 119.22 247.17 119.32 C246.40 119.42 244.66 119.29 243.69 119.12 C242.73 118.95 241.76 118.43 241.38 118.30M262.34 114.71 C261.96 114.51 260.99 113.60 260.03 113.48 C259.06 113.36 257.55 113.45 256.55 114.00 C255.55 114.54 254.20 115.91 254.00 116.76 C253.81 117.62 254.58 118.78 255.39 119.12 C256.20 119.46 257.77 119.37 258.87 118.81 C259.97 118.25 261.47 116.25 261.99 115.74M261.76 113.69 C261.84 114.29 261.88 116.33 262.23 117.27 C262.57 118.21 263.58 118.98 263.85 119.32M273.46 114.40 C273.08 114.25 272.11 113.52 271.14 113.48 C270.18 113.45 268.54 113.65 267.67 114.20 C266.80 114.75 265.93 115.94 265.93 116.76 C265.93 117.58 266.80 118.69 267.67 119.12 C268.54 119.54 270.08 119.41 271.14 119.32 C272.21 119.24 273.56 118.72 274.04 118.61M276.82 109.08 C276.78 109.93 276.59 112.49 276.59 114.20 C276.59 115.91 276.78 118.47 276.82 119.32M283.42 113.69 C282.84 114.03 281.05 115.22 279.95 115.74 C278.85 116.25 276.82 116.42 276.82 116.76 C276.82 117.10 278.85 117.36 279.95 117.79 C281.05 118.21 282.84 119.07 283.42 119.32" fill="none" stroke="#1b1b1b" stroke-width="1.95" stroke-linecap="round" stroke-linejoin="round"/>
<path d="M423.53 100.07 C423.53 100.75 423.47 102.69 423.53 104.20 C423.59 105.71 423.82 108.30 423.88 109.12M423.18 100.16 C423.90 100.10 426.10 99.92 427.50 99.77 C428.90 99.62 430.91 99.36 431.59 99.28M423.76 104.20 C424.29 104.17 425.86 104.09 426.92 104.00 C427.97 103.92 429.54 103.76 430.07 103.71M436.61 103.55 C436.95 103.58 438.07 103.53 438.69 103.72 C439.30 103.92 439.93 104.30 440.32 104.71 C440.70 105.12 440.96 105.69 440.99 106.19 C441.02 106.70 440.83 107.28 440.49 107.72 C440.16 108.15 439.58 108.57 438.98 108.81 C438.39 109.04 437.60 109.16 436.93 109.11 C436.26 109.07 435.51 108.85 434.98 108.54 C434.45 108.24 433.97 107.75 433.74 107.28 C433.51 106.80 433.46 106.20 433.61 105.71 C433.75 105.22 434.14 104.69 434.61 104.33 C435.09 103.98 435.79 103.69 436.45 103.58 C437.10 103.47 438.19 103.66 438.53 103.68M443.86 98.49 C443.84 99.44 443.74 102.43 443.74 104.20 C443.74 105.97 443.84 108.30 443.86 109.12M447.59 98.49 C447.57 99.44 447.48 102.43 447.48 104.20 C447.48 105.97 447.57 108.30 447.59 109.12M453.55 103.55 C453.89 103.58 455.01 103.53 455.63 103.72 C456.24 103.92 456.87 104.30 457.26 104.71 C457.64 105.12 457.90 105.69 457.93 106.19 C457.96 106.70 457.77 107.28 457.43 107.72 C457.10 108.15 456.52 108.57 455.92 108.81 C455.33 109.04 454.54 109.16 453.87 109.11 C453.20 109.07 452.45 108.85 451.92 108.54 C451.39 108.24 450.91 107.75 450.68 107.28 C450.45 106.80 450.40 106.20 450.55 105.71 C450.69 105.22 451.08 104.69 451.55 104.33 C452.02 103.98 452.73 103.69 453.39 103.58 C454.04 103.47 455.13 103.66 455.47 103.68M459.86 103.71 C460.06 104.28 460.54 106.25 461.03 107.15 C461.52 108.06 462.20 109.20 462.78 109.12 C463.37 109.04 464.05 107.32 464.53 106.66 C465.02 106.00 465.31 105.10 465.70 105.18 C466.09 105.27 466.44 106.50 466.87 107.15 C467.30 107.81 467.79 109.29 468.27 109.12 C468.76 108.96 469.25 107.07 469.79 106.17 C470.34 105.27 471.25 104.12 471.54 103.71M480.42 104.20 C480.03 104.09 479.06 103.56 478.09 103.51 C477.11 103.46 475.26 103.63 474.58 103.90 C473.90 104.18 473.70 104.81 474.00 105.18 C474.29 105.56 475.46 105.87 476.33 106.17 C477.21 106.46 478.57 106.63 479.25 106.96 C479.94 107.28 480.52 107.78 480.42 108.14 C480.33 108.50 479.55 108.96 478.67 109.12 C477.79 109.29 476.04 109.24 475.17 109.12 C474.29 109.01 473.70 108.55 473.41 108.43" fill="none" stroke="#1b1b1b" stroke-width="1.95" stroke-linecap="round" stroke-linejoin="round"/>
<path d="M620.43 83.33 C620.39 84.17 620.20 86.51 620.18 88.35 C620.16 90.19 620.28 93.37 620.31 94.37M618.58 82.83 C619.71 82.79 623.21 82.12 625.37 82.58 C627.53 83.04 630.24 84.42 631.54 85.59 C632.83 86.76 633.45 88.31 633.14 89.60 C632.83 90.90 631.29 92.53 629.69 93.37 C628.08 94.20 625.32 94.43 623.51 94.62 C621.70 94.81 619.61 94.52 618.82 94.50M644.62 88.98 C644.21 88.73 643.18 87.62 642.15 87.47 C641.12 87.33 639.52 87.43 638.45 88.10 C637.38 88.77 635.94 90.44 635.73 91.49 C635.53 92.53 636.35 93.95 637.21 94.37 C638.08 94.79 639.74 94.69 640.92 94.00 C642.09 93.31 643.69 90.86 644.25 90.23M644.00 87.72 C644.08 88.45 644.13 90.96 644.50 92.11 C644.87 93.26 645.94 94.20 646.22 94.62M649.19 87.72 C649.19 88.25 649.16 89.71 649.19 90.86 C649.21 92.01 649.29 94.00 649.31 94.62M649.19 90.23 C649.54 89.81 650.54 88.18 651.28 87.72 C652.02 87.26 652.95 87.26 653.63 87.47 C654.31 87.68 655.03 87.79 655.36 88.98 C655.69 90.17 655.56 93.68 655.60 94.62M658.94 88.73 C658.92 89.19 658.81 90.50 658.81 91.49 C658.81 92.47 658.92 94.10 658.94 94.62M658.94 84.46 C658.95 84.50 658.99 84.67 659.00 84.71M662.64 91.11 C663.36 91.07 665.72 91.01 666.96 90.86 C668.19 90.71 669.73 90.73 670.04 90.23 C670.35 89.73 669.53 88.31 668.81 87.85 C668.09 87.39 666.75 87.07 665.72 87.47 C664.70 87.87 663.09 89.21 662.64 90.23 C662.19 91.26 662.39 92.85 663.01 93.62 C663.63 94.39 665.07 94.81 666.34 94.87 C667.62 94.94 669.94 94.14 670.66 94.00M673.62 81.07 C673.60 82.29 673.50 86.09 673.50 88.35 C673.50 90.61 673.60 93.58 673.62 94.62" fill="none" stroke="#1b1b1b" stroke-width="1.95" stroke-linecap="round" stroke-linejoin="round"/>
<path d="M438.46 148.71 C438.44 149.60 438.33 152.18 438.33 154.00 C438.33 155.82 438.44 158.69 438.46 159.62M438.08 148.94 C438.82 148.90 441.14 148.53 442.52 148.71 C443.89 148.90 445.69 149.37 446.32 150.06 C446.96 150.76 446.96 152.16 446.32 152.88 C445.69 153.59 443.83 154.06 442.52 154.34 C441.21 154.62 439.13 154.52 438.46 154.56M440.61 154.56 C441.25 154.99 443.15 156.31 444.42 157.15 C445.69 157.99 447.59 159.21 448.23 159.62M454.31 153.26 C454.68 153.29 455.89 153.24 456.57 153.46 C457.24 153.68 457.92 154.11 458.34 154.58 C458.75 155.05 459.04 155.70 459.07 156.28 C459.10 156.85 458.89 157.52 458.53 158.02 C458.16 158.52 457.53 159.00 456.89 159.26 C456.24 159.53 455.38 159.66 454.66 159.61 C453.93 159.56 453.12 159.31 452.54 158.96 C451.96 158.61 451.45 158.05 451.20 157.51 C450.95 156.97 450.89 156.28 451.05 155.72 C451.21 155.16 451.63 154.56 452.14 154.15 C452.66 153.75 453.42 153.41 454.13 153.29 C454.84 153.16 456.02 153.39 456.40 153.41M461.93 153.44 C461.93 153.91 461.90 155.22 461.93 156.25 C461.95 157.28 462.03 159.06 462.05 159.62M461.93 155.69 C462.29 155.31 463.32 153.85 464.08 153.44 C464.84 153.03 465.80 153.03 466.49 153.21 C467.19 153.40 467.93 153.49 468.27 154.56 C468.61 155.63 468.48 158.78 468.52 159.62" fill="none" stroke="#1b1b1b" stroke-width="1.95" stroke-linecap="round" stroke-linejoin="round"/>
<path d="M798.28 184.81 C797.79 184.61 796.39 183.74 795.35 183.63 C794.30 183.52 793.06 183.58 792.01 184.17 C790.97 184.76 789.57 186.05 789.08 187.18 C788.59 188.30 788.63 189.92 789.08 190.94 C789.52 191.96 790.70 192.85 791.75 193.30 C792.79 193.75 794.13 193.71 795.35 193.62 C796.57 193.53 798.46 192.91 799.08 192.76M801.75 182.56 C801.73 183.50 801.62 186.41 801.62 188.25 C801.62 190.09 801.73 192.73 801.75 193.62M801.75 189.86 C802.15 189.50 803.31 188.11 804.15 187.71 C805.00 187.32 806.04 187.32 806.82 187.50 C807.60 187.68 808.45 187.77 808.82 188.79 C809.20 189.81 809.05 192.82 809.09 193.62M812.43 187.71 C812.43 188.16 812.40 189.41 812.43 190.40 C812.45 191.38 812.54 193.09 812.56 193.62M812.56 189.86 C812.85 189.56 813.67 188.43 814.29 188.04 C814.92 187.64 815.63 187.53 816.29 187.50 C816.96 187.46 817.96 187.77 818.30 187.82M821.63 188.57 C821.61 188.97 821.50 190.09 821.50 190.94 C821.50 191.78 821.61 193.17 821.63 193.62M821.63 184.92 C821.64 184.95 821.69 185.10 821.70 185.13M832.97 188.25 C832.53 188.12 831.42 187.55 830.30 187.50 C829.19 187.44 827.08 187.62 826.30 187.93 C825.52 188.23 825.30 188.91 825.63 189.32 C825.97 189.74 827.30 190.08 828.30 190.40 C829.30 190.72 830.86 190.90 831.64 191.26 C832.42 191.62 833.08 192.15 832.97 192.55 C832.86 192.94 831.97 193.44 830.97 193.62 C829.97 193.80 827.97 193.75 826.97 193.62 C825.97 193.50 825.30 193.00 824.97 192.87M838.84 183.41 C838.80 184.22 838.60 186.73 838.58 188.25 C838.55 189.77 838.51 191.65 838.71 192.55 C838.91 193.44 839.22 193.48 839.78 193.62 C840.33 193.77 841.67 193.44 842.04 193.41M835.11 187.71 C835.77 187.68 837.78 187.57 839.11 187.50 C840.44 187.43 842.45 187.32 843.11 187.28M846.45 188.57 C846.43 188.97 846.31 190.09 846.31 190.94 C846.31 191.78 846.43 193.17 846.45 193.62M846.45 184.92 C846.46 184.95 846.50 185.10 846.51 185.13M850.45 190.61 C851.23 190.58 853.79 190.52 855.12 190.40 C856.45 190.27 858.12 190.29 858.46 189.86 C858.79 189.43 857.90 188.21 857.12 187.82 C856.34 187.43 854.90 187.16 853.79 187.50 C852.67 187.84 850.94 188.98 850.45 189.86 C849.96 190.74 850.18 192.10 850.85 192.76 C851.52 193.43 853.07 193.78 854.45 193.84 C855.83 193.89 858.34 193.21 859.12 193.09" fill="none" stroke="#1b1b1b" stroke-width="1.95" stroke-linecap="round" stroke-linejoin="round"/>
<path d="M103.17 243.43 C103.17 244.27 103.11 246.62 103.17 248.45 C103.24 250.28 103.50 253.43 103.56 254.42M102.78 243.55 C103.59 243.47 106.05 243.25 107.63 243.07 C109.20 242.90 111.45 242.58 112.21 242.48M103.43 248.45 C104.02 248.41 105.79 248.31 106.97 248.21 C108.15 248.11 109.92 247.91 110.51 247.85M115.10 247.85 C115.10 248.35 115.07 249.74 115.10 250.84 C115.12 251.93 115.21 253.83 115.23 254.42M115.23 250.24 C115.51 249.90 116.32 248.65 116.93 248.21 C117.54 247.77 118.24 247.65 118.90 247.61 C119.55 247.57 120.53 247.91 120.86 247.97M123.61 251.08 C124.38 251.04 126.89 250.98 128.20 250.84 C129.51 250.70 131.15 250.72 131.48 250.24 C131.80 249.76 130.93 248.41 130.17 247.97 C129.40 247.53 127.98 247.24 126.89 247.61 C125.80 247.99 124.09 249.27 123.61 250.24 C123.13 251.22 123.35 252.73 124.01 253.47 C124.66 254.20 126.19 254.60 127.55 254.66 C128.90 254.72 131.37 253.96 132.13 253.83M142.09 241.88 C142.07 242.98 141.94 246.36 141.96 248.45 C141.98 250.54 142.18 253.43 142.22 254.42M141.96 249.41 C141.55 249.11 140.48 247.81 139.47 247.61 C138.47 247.41 136.81 247.57 135.93 248.21 C135.06 248.85 134.23 250.44 134.23 251.44 C134.23 252.43 135.17 253.69 135.93 254.18 C136.70 254.68 137.81 254.62 138.82 254.42 C139.82 254.22 141.44 253.23 141.96 252.99" fill="none" stroke="#1b1b1b" stroke-width="1.95" stroke-linecap="round" stroke-linejoin="round"/>
<path d="M263.14 207.47 C263.14 208.17 263.08 210.13 263.14 211.65 C263.20 213.17 263.44 215.79 263.50 216.62M262.78 207.57 C263.52 207.51 265.80 207.32 267.25 207.17 C268.69 207.03 270.77 206.76 271.47 206.68M263.38 211.65 C263.92 211.62 265.55 211.53 266.64 211.45 C267.73 211.37 269.36 211.20 269.90 211.15M274.13 211.15 C274.13 211.57 274.11 212.73 274.13 213.64 C274.15 214.55 274.23 216.13 274.25 216.62M274.25 213.14 C274.51 212.86 275.26 211.82 275.82 211.45 C276.38 211.09 277.03 210.99 277.63 210.95 C278.23 210.92 279.14 211.20 279.44 211.25M282.46 211.95 C282.44 212.31 282.34 213.36 282.34 214.14 C282.34 214.92 282.44 216.21 282.46 216.62M282.46 208.57 C282.47 208.60 282.51 208.73 282.52 208.77M286.08 213.84 C286.79 213.80 289.10 213.76 290.31 213.64 C291.52 213.52 293.03 213.54 293.33 213.14 C293.63 212.74 292.83 211.62 292.12 211.25 C291.42 210.89 290.11 210.64 289.10 210.95 C288.10 211.27 286.53 212.33 286.08 213.14 C285.64 213.95 285.84 215.21 286.45 215.83 C287.05 216.44 288.46 216.77 289.71 216.82 C290.95 216.87 293.23 216.24 293.93 216.13M296.59 211.15 C296.59 211.57 296.57 212.73 296.59 213.64 C296.61 214.55 296.69 216.13 296.71 216.62M296.59 213.14 C296.93 212.81 297.92 211.52 298.64 211.15 C299.37 210.79 300.27 210.79 300.94 210.95 C301.60 211.12 302.30 211.20 302.63 212.15 C302.95 213.09 302.83 215.88 302.87 216.62M312.29 206.18 C312.27 207.09 312.15 209.91 312.17 211.65 C312.19 213.39 312.37 215.79 312.41 216.62M312.17 212.45 C311.78 212.20 310.80 211.12 309.87 210.95 C308.95 210.79 307.42 210.92 306.61 211.45 C305.81 211.98 305.04 213.31 305.04 214.14 C305.04 214.97 305.91 216.01 306.61 216.42 C307.32 216.84 308.34 216.79 309.27 216.62 C310.19 216.46 311.68 215.63 312.17 215.43M322.97 209.48 C323.36 209.40 324.53 208.99 325.32 208.97 C326.11 208.94 327.00 209.09 327.71 209.35 C328.42 209.61 329.12 210.05 329.59 210.54 C330.06 211.03 330.41 211.67 330.52 212.27 C330.64 212.86 330.56 213.55 330.30 214.12 C330.04 214.69 329.54 215.28 328.96 215.69 C328.38 216.10 327.59 216.43 326.82 216.59 C326.06 216.75 325.15 216.76 324.38 216.62 C323.61 216.49 322.80 216.18 322.20 215.78 C321.60 215.39 321.08 214.82 320.79 214.26 C320.50 213.70 320.38 213.01 320.47 212.41 C320.56 211.81 320.87 211.16 321.32 210.66 C321.76 210.16 322.44 209.70 323.14 209.41 C323.84 209.13 325.11 209.04 325.51 208.96M334.75 216.62 C334.77 215.79 334.83 212.98 334.87 211.65 C334.91 210.32 334.77 209.50 334.99 208.67 C335.21 207.84 335.59 207.06 336.20 206.68 C336.80 206.30 337.91 206.30 338.61 206.38 C339.32 206.46 340.12 207.04 340.42 207.17M332.57 211.45 C333.18 211.42 335.09 211.30 336.20 211.25 C337.30 211.20 338.71 211.17 339.21 211.15" fill="none" stroke="#1b1b1b" stroke-width="1.95" stroke-linecap="round" stroke-linejoin="round"/>
<path d="M616.22 168.37 C616.22 169.15 616.17 171.34 616.22 173.05 C616.28 174.76 616.51 177.69 616.57 178.62M615.88 168.48 C616.59 168.41 618.76 168.20 620.14 168.03 C621.52 167.87 623.50 167.57 624.17 167.48M616.45 173.05 C616.97 173.01 618.53 172.92 619.56 172.83 C620.60 172.73 622.16 172.55 622.67 172.49M629.12 172.32 C629.46 172.35 630.56 172.29 631.17 172.51 C631.78 172.73 632.40 173.16 632.78 173.62 C633.16 174.09 633.41 174.74 633.44 175.31 C633.47 175.88 633.28 176.54 632.95 177.03 C632.62 177.53 632.05 178.00 631.46 178.26 C630.87 178.53 630.09 178.66 629.44 178.61 C628.78 178.56 628.04 178.31 627.51 177.97 C626.99 177.62 626.52 177.07 626.29 176.53 C626.07 176.00 626.02 175.31 626.16 174.76 C626.30 174.20 626.68 173.60 627.15 173.20 C627.62 172.80 628.32 172.47 628.96 172.35 C629.61 172.22 630.68 172.44 631.02 172.46M636.27 166.59 C636.25 167.66 636.15 171.04 636.15 173.05 C636.15 175.06 636.25 177.69 636.27 178.62M639.95 166.59 C639.93 167.66 639.84 171.04 639.84 173.05 C639.84 175.06 639.93 177.69 639.95 178.62M645.82 172.32 C646.16 172.35 647.26 172.29 647.87 172.51 C648.48 172.73 649.10 173.16 649.48 173.62 C649.86 174.09 650.12 174.74 650.14 175.31 C650.17 175.88 649.98 176.54 649.65 177.03 C649.32 177.53 648.75 178.00 648.16 178.26 C647.58 178.53 646.80 178.66 646.14 178.61 C645.48 178.56 644.74 178.31 644.22 177.97 C643.69 177.62 643.22 177.07 643.00 176.53 C642.77 176.00 642.72 175.31 642.86 174.76 C643.01 174.20 643.39 173.60 643.85 173.20 C644.32 172.80 645.02 172.47 645.66 172.35 C646.31 172.22 647.38 172.44 647.72 172.46M652.05 172.49 C652.24 173.14 652.72 175.37 653.20 176.39 C653.68 177.42 654.35 178.72 654.93 178.62 C655.50 178.53 656.18 176.58 656.66 175.84 C657.14 175.09 657.42 174.07 657.81 174.16 C658.19 174.26 658.54 175.65 658.96 176.39 C659.38 177.14 659.86 178.81 660.34 178.62 C660.82 178.44 661.30 176.30 661.84 175.28 C662.38 174.26 663.28 172.96 663.57 172.49M672.32 173.05 C671.94 172.92 670.98 172.33 670.02 172.27 C669.06 172.21 667.23 172.40 666.56 172.72 C665.89 173.03 665.70 173.74 665.99 174.16 C666.27 174.59 667.43 174.94 668.29 175.28 C669.15 175.61 670.50 175.80 671.17 176.17 C671.84 176.54 672.42 177.10 672.32 177.51 C672.23 177.92 671.46 178.44 670.59 178.62 C669.73 178.81 668.00 178.75 667.14 178.62 C666.27 178.49 665.70 177.97 665.41 177.84" fill="none" stroke="#1b1b1b" stroke-width="1.95" stroke-linecap="round" stroke-linejoin="round"/>
<path d="M646.38 287.02 C647.23 286.97 649.79 286.78 651.50 286.69 C653.21 286.60 655.77 286.51 656.63 286.48M653.21 286.69 C653.25 287.56 653.44 290.27 653.44 291.90 C653.44 293.53 653.44 295.55 653.21 296.45 C652.98 297.36 652.83 297.21 652.07 297.32 C651.31 297.43 649.60 297.29 648.66 297.11 C647.71 296.92 646.76 296.38 646.38 296.24M666.99 292.44 C666.61 292.23 665.66 291.27 664.72 291.14 C663.77 291.01 662.29 291.10 661.30 291.68 C660.31 292.26 658.98 293.71 658.79 294.61 C658.60 295.51 659.36 296.74 660.16 297.11 C660.96 297.47 662.49 297.38 663.58 296.78 C664.66 296.18 666.14 294.07 666.65 293.53M666.42 291.36 C666.50 291.99 666.54 294.16 666.88 295.15 C667.22 296.15 668.21 296.96 668.47 297.32M677.93 292.12 C677.55 291.95 676.60 291.18 675.65 291.14 C674.70 291.10 673.09 291.32 672.23 291.90 C671.38 292.48 670.52 293.74 670.52 294.61 C670.52 295.48 671.38 296.65 672.23 297.11 C673.09 297.56 674.61 297.41 675.65 297.32 C676.69 297.23 678.02 296.69 678.50 296.56M681.23 286.48 C681.19 287.38 681.00 290.09 681.00 291.90 C681.00 293.71 681.19 296.42 681.23 297.32M687.72 291.36 C687.15 291.72 685.39 292.98 684.31 293.53 C683.22 294.07 681.23 294.25 681.23 294.61 C681.23 294.97 683.22 295.24 684.31 295.70 C685.39 296.15 687.15 297.05 687.72 297.32" fill="none" stroke="#1b1b1b" stroke-width="1.95" stroke-linecap="round" stroke-linejoin="round"/>
<path d="M307.88 359.82 C308.07 358.93 308.70 356.21 309.05 354.45 C309.40 352.69 309.40 349.47 309.98 349.29 C310.57 349.11 311.78 352.07 312.56 353.38 C313.34 354.68 313.73 357.32 314.66 357.14 C315.60 356.96 317.24 353.59 318.17 352.30 C319.11 351.01 319.79 349.04 320.28 349.40 C320.77 349.76 320.82 352.71 321.10 354.45 C321.37 356.19 321.78 358.93 321.92 359.82M324.72 356.81 C325.41 356.78 327.65 356.72 328.82 356.60 C329.99 356.47 331.45 356.49 331.74 356.06 C332.04 355.63 331.26 354.41 330.57 354.02 C329.89 353.63 328.62 353.36 327.65 353.70 C326.67 354.04 325.15 355.18 324.72 356.06 C324.29 356.94 324.49 358.30 325.07 358.96 C325.66 359.63 327.02 359.98 328.23 360.04 C329.44 360.09 331.65 359.41 332.33 359.29M341.80 354.99 C341.41 354.77 340.44 353.82 339.46 353.70 C338.49 353.57 336.83 353.75 335.95 354.24 C335.08 354.72 334.20 355.85 334.20 356.60 C334.20 357.35 335.17 358.39 335.95 358.75 C336.73 359.11 337.90 359.11 338.88 358.75 C339.85 358.39 341.32 356.96 341.80 356.60M341.80 353.91 C341.82 354.72 341.96 357.32 341.92 358.75 C341.88 360.18 341.78 361.65 341.57 362.51 C341.36 363.37 341.18 363.94 340.63 363.91 C340.09 363.87 338.68 362.56 338.29 362.29M345.08 348.76 C345.06 349.70 344.96 352.61 344.96 354.45 C344.96 356.29 345.06 358.93 345.08 359.82M345.08 356.06 C345.43 355.70 346.44 354.31 347.19 353.91 C347.93 353.52 348.84 353.52 349.53 353.70 C350.21 353.88 350.95 353.97 351.28 354.99 C351.61 356.01 351.47 359.02 351.51 359.82M362.51 354.99 C362.12 354.77 361.15 353.82 360.17 353.70 C359.20 353.57 357.68 353.66 356.66 354.24 C355.65 354.81 354.28 356.24 354.09 357.14 C353.89 358.03 354.67 359.25 355.49 359.61 C356.31 359.97 357.89 359.88 359.00 359.29 C360.11 358.69 361.63 356.60 362.16 356.06M361.93 353.91 C362.00 354.54 362.04 356.69 362.39 357.67 C362.74 358.66 363.76 359.46 364.03 359.82M366.84 353.91 C366.84 354.36 366.82 355.61 366.84 356.60 C366.86 357.58 366.94 359.29 366.96 359.82M366.84 356.06 C367.17 355.70 368.13 354.31 368.83 353.91 C369.53 353.52 370.41 353.52 371.05 353.70 C371.69 353.88 372.38 353.97 372.69 354.99 C373.00 356.01 372.88 359.02 372.92 359.82" fill="none" stroke="#1b1b1b" stroke-width="1.95" stroke-linecap="round" stroke-linejoin="round"/>
<path d="M570.04 306.48 C570.04 307.18 569.98 309.16 570.04 310.70 C570.10 312.24 570.35 314.89 570.41 315.72M569.68 306.58 C570.43 306.51 572.72 306.33 574.19 306.18 C575.65 306.03 577.74 305.76 578.45 305.68M570.29 310.70 C570.84 310.67 572.48 310.58 573.58 310.50 C574.67 310.42 576.32 310.25 576.87 310.20M581.13 310.20 C581.13 310.62 581.11 311.79 581.13 312.71 C581.15 313.63 581.23 315.22 581.25 315.72M581.25 312.21 C581.52 311.92 582.27 310.87 582.84 310.50 C583.41 310.13 584.05 310.03 584.66 310.00 C585.27 309.96 586.19 310.25 586.49 310.30M589.54 311.00 C589.52 311.37 589.42 312.42 589.42 313.21 C589.42 314.00 589.52 315.30 589.54 315.72M589.54 307.59 C589.55 307.62 589.59 307.75 589.60 307.79M593.19 312.91 C593.90 312.88 596.24 312.83 597.46 312.71 C598.68 312.59 600.20 312.61 600.50 312.21 C600.81 311.80 600.00 310.67 599.29 310.30 C598.57 309.93 597.25 309.68 596.24 310.00 C595.22 310.31 593.64 311.39 593.19 312.21 C592.75 313.03 592.95 314.30 593.56 314.92 C594.17 315.54 595.59 315.87 596.85 315.92 C598.11 315.97 600.40 315.34 601.11 315.22M603.79 310.20 C603.79 310.62 603.77 311.79 603.79 312.71 C603.81 313.63 603.90 315.22 603.92 315.72M603.79 312.21 C604.14 311.87 605.13 310.57 605.86 310.20 C606.60 309.83 607.51 309.83 608.18 310.00 C608.85 310.16 609.56 310.25 609.89 311.20 C610.21 312.16 610.09 314.97 610.13 315.72M619.63 305.18 C619.61 306.10 619.49 308.94 619.51 310.70 C619.53 312.46 619.71 314.89 619.75 315.72M619.51 311.50 C619.13 311.25 618.13 310.16 617.20 310.00 C616.26 309.83 614.72 309.96 613.91 310.50 C613.09 311.03 612.32 312.37 612.32 313.21 C612.32 314.05 613.20 315.10 613.91 315.52 C614.62 315.94 615.65 315.89 616.59 315.72 C617.52 315.56 619.02 314.72 619.51 314.52M630.42 308.51 C630.81 308.43 631.99 308.01 632.78 307.99 C633.58 307.97 634.48 308.11 635.20 308.38 C635.91 308.64 636.62 309.09 637.09 309.58 C637.57 310.07 637.92 310.72 638.04 311.32 C638.15 311.92 638.07 312.62 637.81 313.20 C637.54 313.78 637.04 314.36 636.46 314.78 C635.87 315.19 635.07 315.53 634.30 315.69 C633.53 315.85 632.61 315.86 631.84 315.72 C631.06 315.59 630.24 315.27 629.64 314.87 C629.03 314.48 628.50 313.90 628.21 313.34 C627.92 312.77 627.80 312.07 627.89 311.47 C627.98 310.86 628.30 310.20 628.75 309.70 C629.20 309.19 629.88 308.73 630.58 308.44 C631.29 308.16 632.58 308.06 632.97 307.99M642.30 315.72 C642.32 314.89 642.38 312.04 642.42 310.70 C642.46 309.36 642.32 308.52 642.54 307.69 C642.76 306.85 643.15 306.06 643.76 305.68 C644.37 305.29 645.48 305.29 646.19 305.38 C646.91 305.46 647.72 306.05 648.02 306.18M640.10 310.50 C640.71 310.47 642.64 310.35 643.76 310.30 C644.87 310.25 646.30 310.21 646.80 310.20" fill="none" stroke="#1b1b1b" stroke-width="1.95" stroke-linecap="round" stroke-linejoin="round"/>
<path d="M524.26 365.62 C524.24 366.51 524.14 369.12 524.14 370.95 C524.14 372.78 524.24 375.68 524.26 376.62M523.88 365.84 C524.63 365.81 526.99 365.43 528.39 365.62 C529.78 365.81 531.61 366.28 532.26 366.98 C532.90 367.68 532.90 369.10 532.26 369.82 C531.61 370.53 529.72 371.01 528.39 371.29 C527.06 371.57 524.95 371.48 524.26 371.52M526.46 371.52 C527.10 371.95 529.03 373.28 530.32 374.13 C531.61 374.98 533.54 376.21 534.19 376.62M546.56 371.52 C546.13 371.29 545.06 370.29 543.98 370.16 C542.91 370.02 541.23 370.12 540.12 370.72 C539.00 371.33 537.50 372.84 537.28 373.79 C537.07 374.73 537.93 376.02 538.83 376.40 C539.73 376.77 541.47 376.68 542.70 376.06 C543.92 375.43 545.60 373.22 546.18 372.65M545.92 370.38 C546.00 371.04 546.05 373.31 546.43 374.35 C546.82 375.39 547.94 376.24 548.24 376.62M550.56 370.38 C550.88 370.95 551.85 372.75 552.49 373.79 C553.14 374.83 553.72 376.72 554.42 376.62 C555.13 376.53 555.99 374.30 556.74 373.22 C557.50 372.14 558.57 370.67 558.94 370.16M562.16 371.29 C562.14 371.71 562.03 372.90 562.03 373.79 C562.03 374.67 562.14 376.15 562.16 376.62M562.16 367.43 C562.17 367.47 562.21 367.62 562.22 367.66" fill="none" stroke="#1b1b1b" stroke-width="1.95" stroke-linecap="round" stroke-linejoin="round"/>
<path d="M761.52 246.41 C761.52 247.22 761.47 249.51 761.52 251.30 C761.58 253.09 761.81 256.15 761.87 257.12M761.18 246.53 C761.89 246.45 764.07 246.23 765.46 246.06 C766.85 245.89 768.84 245.57 769.52 245.48M761.76 251.30 C762.28 251.26 763.84 251.16 764.88 251.07 C765.93 250.97 767.49 250.78 768.01 250.72M774.49 250.54 C774.83 250.57 775.94 250.51 776.55 250.74 C777.16 250.96 777.79 251.41 778.17 251.90 C778.55 252.39 778.81 253.07 778.83 253.66 C778.86 254.25 778.67 254.95 778.34 255.46 C778.01 255.98 777.43 256.47 776.84 256.75 C776.25 257.02 775.47 257.16 774.81 257.11 C774.15 257.06 773.40 256.80 772.88 256.44 C772.35 256.07 771.88 255.50 771.65 254.94 C771.42 254.38 771.37 253.67 771.51 253.09 C771.66 252.51 772.04 251.88 772.51 251.46 C772.98 251.04 773.68 250.69 774.33 250.56 C774.98 250.43 776.05 250.66 776.40 250.68M781.68 244.55 C781.66 245.67 781.56 249.20 781.56 251.30 C781.56 253.40 781.66 256.15 781.68 257.12M785.38 244.55 C785.36 245.67 785.27 249.20 785.27 251.30 C785.27 253.40 785.36 256.15 785.38 257.12M791.28 250.54 C791.62 250.57 792.73 250.51 793.34 250.74 C793.96 250.96 794.58 251.41 794.96 251.90 C795.34 252.39 795.60 253.07 795.63 253.66 C795.66 254.25 795.47 254.95 795.13 255.46 C794.80 255.98 794.22 256.47 793.64 256.75 C793.05 257.02 792.26 257.16 791.60 257.11 C790.94 257.06 790.19 256.80 789.67 256.44 C789.14 256.07 788.67 255.50 788.44 254.94 C788.21 254.38 788.16 253.67 788.31 253.09 C788.45 252.51 788.83 251.88 789.30 251.46 C789.77 251.04 790.47 250.69 791.12 250.56 C791.77 250.43 792.85 250.66 793.19 250.68M797.54 250.72 C797.73 251.40 798.22 253.73 798.70 254.79 C799.18 255.86 799.86 257.22 800.44 257.12 C801.01 257.03 801.69 254.99 802.17 254.21 C802.66 253.43 802.94 252.37 803.33 252.46 C803.72 252.56 804.06 254.02 804.49 254.79 C804.91 255.57 805.40 257.32 805.88 257.12 C806.36 256.93 806.84 254.70 807.38 253.63 C807.92 252.56 808.83 251.20 809.12 250.72M817.92 251.30 C817.54 251.16 816.57 250.54 815.61 250.48 C814.64 250.43 812.81 250.62 812.13 250.95 C811.46 251.28 811.26 252.02 811.55 252.46 C811.84 252.91 813.00 253.28 813.87 253.63 C814.74 253.98 816.09 254.17 816.76 254.56 C817.44 254.95 818.02 255.53 817.92 255.96 C817.83 256.38 817.05 256.93 816.19 257.12 C815.32 257.32 813.58 257.26 812.71 257.12 C811.84 256.99 811.26 256.44 810.97 256.31" fill="none" stroke="#1b1b1b" stroke-width="1.95" stroke-linecap="round" stroke-linejoin="round"/>
<path d="M763.18 379.26 C764.24 379.11 767.20 378.57 769.52 378.34 C771.85 378.11 775.87 377.95 777.14 377.88M770.79 378.34 C770.75 379.03 770.54 381.04 770.54 382.50 C770.54 383.96 770.75 386.35 770.79 387.12M782.59 381.89 C782.97 381.92 784.18 381.87 784.85 382.05 C785.52 382.23 786.21 382.59 786.62 382.98 C787.04 383.36 787.32 383.90 787.35 384.37 C787.39 384.84 787.18 385.40 786.81 385.81 C786.45 386.21 785.82 386.61 785.17 386.82 C784.53 387.04 783.67 387.15 782.94 387.11 C782.22 387.07 781.40 386.87 780.82 386.58 C780.25 386.29 779.73 385.83 779.48 385.39 C779.23 384.95 779.17 384.38 779.33 383.92 C779.49 383.46 779.91 382.96 780.42 382.62 C780.94 382.29 781.71 382.02 782.42 381.92 C783.13 381.81 784.31 382.00 784.69 382.01M790.21 382.04 C790.21 382.42 790.19 383.50 790.21 384.35 C790.24 385.20 790.32 386.66 790.34 387.12M790.21 383.89 C790.47 383.58 791.17 382.38 791.74 382.04 C792.31 381.70 793.07 381.70 793.64 381.85 C794.21 382.01 794.89 382.08 795.16 382.96 C795.44 383.84 795.27 386.43 795.29 387.12M795.29 383.89 C795.55 383.58 796.24 382.38 796.81 382.04 C797.39 381.70 798.15 381.70 798.72 381.85 C799.29 382.01 799.92 382.08 800.24 382.96 C800.56 383.84 800.56 386.43 800.62 387.12" fill="none" stroke="#1b1b1b" stroke-width="1.95" stroke-linecap="round" stroke-linejoin="round"/>
<path d="M57.67 340.91 C58.13 340.88 59.42 340.78 60.42 340.74 C61.42 340.69 63.68 340.25 63.68 340.65 C63.68 341.05 61.48 342.32 60.42 343.14 C59.37 343.95 57.37 345.15 57.37 345.54 C57.37 345.92 59.32 345.49 60.42 345.45 C61.53 345.41 63.39 345.31 63.99 345.28M66.13 343.14 C66.72 343.11 68.68 343.06 69.70 342.96 C70.71 342.86 71.99 342.88 72.24 342.54 C72.50 342.19 71.82 341.22 71.22 340.91 C70.63 340.59 69.53 340.38 68.68 340.65 C67.83 340.92 66.50 341.84 66.13 342.54 C65.75 343.24 65.92 344.32 66.43 344.85 C66.94 345.38 68.13 345.66 69.19 345.71 C70.24 345.75 72.16 345.21 72.75 345.11M74.99 340.82 C74.99 341.18 74.98 342.18 74.99 342.96 C75.01 343.75 75.08 345.11 75.10 345.54M75.10 342.54 C75.32 342.29 75.95 341.39 76.42 341.08 C76.90 340.76 77.44 340.68 77.95 340.65 C78.46 340.62 79.22 340.86 79.48 340.91M83.85 340.69 C84.16 340.71 85.13 340.67 85.67 340.84 C86.21 341.00 86.76 341.33 87.09 341.69 C87.43 342.05 87.65 342.55 87.68 342.99 C87.70 343.42 87.54 343.93 87.24 344.31 C86.95 344.69 86.44 345.06 85.93 345.26 C85.41 345.46 84.72 345.56 84.14 345.53 C83.55 345.49 82.90 345.30 82.43 345.03 C81.97 344.76 81.56 344.34 81.36 343.93 C81.16 343.52 81.11 342.99 81.24 342.56 C81.36 342.14 81.70 341.67 82.11 341.37 C82.53 341.06 83.14 340.80 83.71 340.71 C84.28 340.61 85.23 340.78 85.54 340.80M92.22 337.39 C92.18 338.04 92.03 340.04 92.01 341.25 C91.99 342.46 91.96 343.96 92.11 344.68 C92.27 345.39 92.50 345.42 92.93 345.54 C93.35 345.65 94.37 345.39 94.66 345.36M89.36 340.82 C89.87 340.79 91.40 340.71 92.42 340.65 C93.44 340.59 94.97 340.51 95.48 340.48M99.85 340.69 C100.15 340.71 101.13 340.67 101.67 340.84 C102.21 341.00 102.75 341.33 103.09 341.69 C103.42 342.05 103.65 342.55 103.68 342.99 C103.70 343.42 103.53 343.93 103.24 344.31 C102.95 344.69 102.44 345.06 101.92 345.26 C101.41 345.46 100.72 345.56 100.13 345.53 C99.55 345.49 98.90 345.30 98.43 345.03 C97.97 344.76 97.55 344.34 97.35 343.93 C97.15 343.52 97.11 342.99 97.23 342.56 C97.36 342.14 97.70 341.67 98.11 341.37 C98.53 341.06 99.14 340.80 99.71 340.71 C100.28 340.61 101.23 340.78 101.53 340.80M111.47 341.25 C111.14 341.15 110.29 340.69 109.44 340.65 C108.59 340.61 106.97 340.75 106.38 340.99 C105.79 341.24 105.62 341.78 105.87 342.11 C106.13 342.44 107.14 342.71 107.91 342.96 C108.67 343.22 109.86 343.36 110.46 343.65 C111.05 343.94 111.56 344.36 111.47 344.68 C111.39 344.99 110.71 345.39 109.95 345.54 C109.18 345.68 107.65 345.63 106.89 345.54 C106.13 345.44 105.62 345.04 105.36 344.94M115.85 340.69 C116.15 340.71 117.13 340.67 117.67 340.84 C118.20 341.00 118.75 341.33 119.09 341.69 C119.42 342.05 119.65 342.55 119.67 342.99 C119.70 343.42 119.53 343.93 119.24 344.31 C118.95 344.69 118.44 345.06 117.92 345.26 C117.40 345.46 116.71 345.56 116.13 345.53 C115.55 345.49 114.90 345.30 114.43 345.03 C113.97 344.76 113.55 344.34 113.35 343.93 C113.15 343.52 113.11 342.99 113.23 342.56 C113.36 342.14 113.70 341.67 114.11 341.37 C114.52 341.06 115.14 340.80 115.71 340.71 C116.28 340.61 117.23 340.78 117.53 340.80M123.19 345.54 C123.21 344.82 123.26 342.39 123.30 341.25 C123.33 340.11 123.21 339.39 123.40 338.68 C123.58 337.96 123.91 337.29 124.42 336.96 C124.93 336.64 125.86 336.64 126.45 336.71 C127.05 336.78 127.73 337.28 127.98 337.39M121.36 341.08 C121.87 341.05 123.48 340.95 124.42 340.91 C125.35 340.86 126.54 340.84 126.96 340.82M131.96 337.39 C131.92 338.04 131.77 340.04 131.75 341.25 C131.74 342.46 131.70 343.96 131.86 344.68 C132.01 345.39 132.25 345.42 132.67 345.54 C133.10 345.65 134.11 345.39 134.40 345.36M129.10 340.82 C129.61 340.79 131.14 340.71 132.16 340.65 C133.18 340.59 134.71 340.51 135.22 340.48M136.85 340.82 C137.02 341.32 137.44 343.04 137.87 343.82 C138.29 344.61 138.89 345.61 139.40 345.54 C139.91 345.46 140.50 343.96 140.92 343.39 C141.35 342.82 141.60 342.04 141.94 342.11 C142.28 342.18 142.59 343.25 142.96 343.82 C143.34 344.39 143.76 345.68 144.19 345.54 C144.61 345.39 145.03 343.75 145.51 342.96 C145.99 342.18 146.78 341.18 147.04 340.82M156.31 341.68 C155.97 341.51 155.12 340.75 154.27 340.65 C153.42 340.55 152.10 340.62 151.22 341.08 C150.33 341.54 149.14 342.68 148.97 343.39 C148.80 344.11 149.48 345.08 150.20 345.36 C150.91 345.65 152.29 345.58 153.25 345.11 C154.22 344.64 155.55 342.96 156.01 342.54M155.80 340.82 C155.87 341.32 155.90 343.04 156.21 343.82 C156.52 344.61 157.40 345.25 157.64 345.54M160.08 340.82 C160.08 341.18 160.07 342.18 160.08 342.96 C160.10 343.75 160.17 345.11 160.18 345.54M160.18 342.54 C160.40 342.29 161.03 341.39 161.51 341.08 C161.98 340.76 162.53 340.68 163.04 340.65 C163.55 340.62 164.31 340.86 164.57 340.91M166.71 343.14 C167.30 343.11 169.25 343.06 170.27 342.96 C171.29 342.86 172.57 342.88 172.82 342.54 C173.07 342.19 172.40 341.22 171.80 340.91 C171.21 340.59 170.10 340.38 169.25 340.65 C168.40 340.92 167.08 341.84 166.71 342.54 C166.33 343.24 166.50 344.32 167.01 344.85 C167.52 345.38 168.71 345.66 169.76 345.71 C170.82 345.75 172.73 345.21 173.33 345.11M182.60 341.68 C182.26 341.51 181.41 340.75 180.56 340.65 C179.72 340.55 178.39 340.62 177.51 341.08 C176.62 341.54 175.44 342.68 175.27 343.39 C175.10 344.11 175.77 345.08 176.49 345.36 C177.20 345.65 178.58 345.58 179.55 345.11 C180.51 344.64 181.84 342.96 182.30 342.54M182.09 340.82 C182.16 341.32 182.19 343.04 182.50 343.82 C182.81 344.61 183.69 345.25 183.93 345.54M186.37 340.82 C186.37 341.18 186.36 342.18 186.37 342.96 C186.39 343.75 186.46 345.11 186.47 345.54M186.47 342.54 C186.70 342.29 187.32 341.39 187.80 341.08 C188.27 340.76 188.82 340.68 189.33 340.65 C189.84 340.62 190.60 340.86 190.86 340.91M199.11 341.42 C198.77 341.29 197.92 340.68 197.07 340.65 C196.22 340.62 194.78 340.79 194.02 341.25 C193.25 341.71 192.49 342.71 192.49 343.39 C192.49 344.08 193.25 345.01 194.02 345.36 C194.78 345.72 196.14 345.61 197.07 345.54 C198.01 345.46 199.20 345.04 199.62 344.94M201.96 336.71 C201.95 337.46 201.86 339.78 201.86 341.25 C201.86 342.72 201.95 344.82 201.96 345.54M201.96 342.54 C202.27 342.25 203.15 341.14 203.80 340.82 C204.44 340.51 205.24 340.51 205.84 340.65 C206.43 340.79 207.08 340.86 207.36 341.68 C207.65 342.49 207.53 344.89 207.57 345.54M210.42 341.51 C210.40 341.82 210.32 342.72 210.32 343.39 C210.32 344.06 210.40 345.18 210.42 345.54M210.42 338.59 C210.43 338.62 210.46 338.74 210.47 338.76M215.82 337.39 C215.79 338.04 215.64 340.04 215.62 341.25 C215.60 342.46 215.57 343.96 215.72 344.68 C215.87 345.39 216.11 345.42 216.54 345.54 C216.96 345.65 217.98 345.39 218.27 345.36M212.97 340.82 C213.48 340.79 215.01 340.71 216.03 340.65 C217.05 340.59 218.57 340.51 219.08 340.48M221.22 343.14 C221.82 343.11 223.77 343.06 224.79 342.96 C225.81 342.86 227.08 342.88 227.34 342.54 C227.59 342.19 226.91 341.22 226.32 340.91 C225.72 340.59 224.62 340.38 223.77 340.65 C222.92 340.92 221.60 341.84 221.22 342.54 C220.85 343.24 221.02 344.32 221.53 344.85 C222.04 345.38 223.23 345.66 224.28 345.71 C225.33 345.75 227.25 345.21 227.85 345.11M236.10 341.42 C235.76 341.29 234.91 340.68 234.06 340.65 C233.21 340.62 231.77 340.79 231.01 341.25 C230.24 341.71 229.48 342.71 229.48 343.39 C229.48 344.08 230.24 345.01 231.01 345.36 C231.77 345.72 233.13 345.61 234.06 345.54 C235.00 345.46 236.19 345.04 236.61 344.94M241.09 337.39 C241.06 338.04 240.91 340.04 240.89 341.25 C240.87 342.46 240.84 343.96 240.99 344.68 C241.15 345.39 241.38 345.42 241.81 345.54 C242.23 345.65 243.25 345.39 243.54 345.36M238.24 340.82 C238.75 340.79 240.28 340.71 241.30 340.65 C242.32 340.59 243.85 340.51 244.35 340.48M246.90 345.11 C246.91 345.14 246.94 345.25 246.95 345.28M256.07 341.42 C255.73 341.29 254.88 340.68 254.04 340.65 C253.19 340.62 251.74 340.79 250.98 341.25 C250.21 341.71 249.45 342.71 249.45 343.39 C249.45 344.08 250.21 345.01 250.98 345.36 C251.74 345.72 253.10 345.61 254.04 345.54 C254.97 345.46 256.16 345.04 256.58 344.94M260.96 340.69 C261.26 340.71 262.23 340.67 262.77 340.84 C263.31 341.00 263.86 341.33 264.20 341.69 C264.53 342.05 264.76 342.55 264.78 342.99 C264.81 343.42 264.64 343.93 264.35 344.31 C264.06 344.69 263.55 345.06 263.03 345.26 C262.51 345.46 261.82 345.56 261.24 345.53 C260.66 345.49 260.00 345.30 259.54 345.03 C259.08 344.76 258.66 344.34 258.46 343.93 C258.26 343.52 258.22 342.99 258.34 342.56 C258.47 342.14 258.81 341.67 259.22 341.37 C259.63 341.06 260.25 340.80 260.82 340.71 C261.39 340.61 262.34 340.78 262.64 340.80M267.08 340.82 C267.08 341.18 267.06 342.18 267.08 342.96 C267.10 343.75 267.16 345.11 267.18 345.54M267.08 342.54 C267.28 342.25 267.84 341.14 268.30 340.82 C268.76 340.51 269.37 340.51 269.83 340.65 C270.29 340.79 270.83 340.86 271.05 341.68 C271.27 342.49 271.14 344.89 271.16 345.54M271.16 342.54 C271.36 342.25 271.92 341.14 272.38 340.82 C272.84 340.51 273.45 340.51 273.91 340.65 C274.37 340.79 274.87 340.86 275.13 341.68 C275.38 342.49 275.38 344.89 275.44 345.54" fill="none" stroke="#1b1b1b" stroke-width="1.70" stroke-linecap="round" stroke-linejoin="round"/>
</svg></body></html>
